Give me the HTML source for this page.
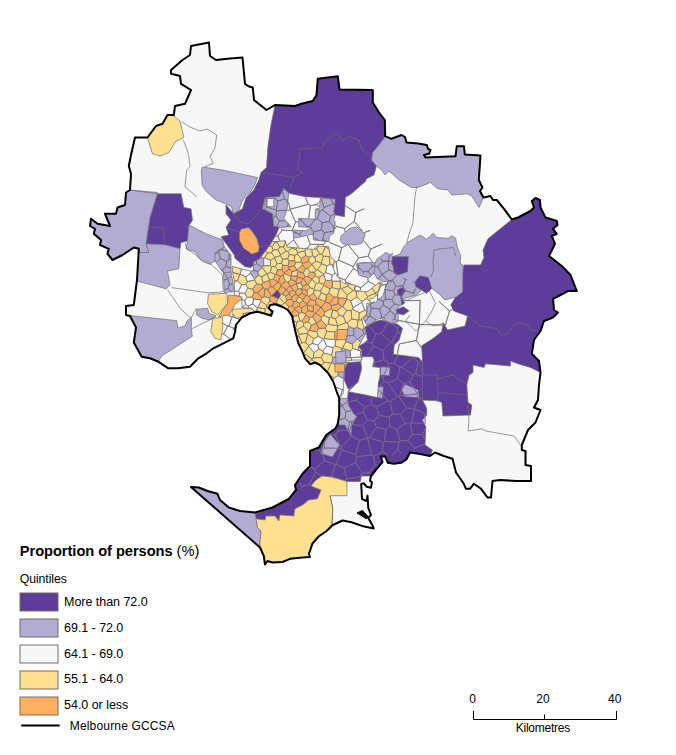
<!DOCTYPE html>
<html><head><meta charset="utf-8"><title>Proportion of persons</title>
<style>
html,body{margin:0;padding:0;background:#fff;}
body{width:676px;height:755px;overflow:hidden;position:relative;}
svg{position:absolute;left:0;top:0;}
svg text{font-family:"Liberation Sans",sans-serif;fill:#000;}
</style></head><body>
<svg width="676" height="755" viewBox="0 0 676 755">
<polygon points="191,46 209,42.5 210,56 216,60 230,58.5 242.5,57.5 245,84 249,86.5 252.8,87.5 254,100 266.5,110 275,105 295,106 301.5,103.8 312.8,101 316.5,95 317.8,78.8 337.8,76.2 339.5,89.5 372.8,90 372.8,102.5 379,112.5 384.8,120 385.2,136.2 391.5,138.8 401.5,135 405,137 406.5,142.5 418,143.5 426.8,145 428,148.8 430.5,150 429,153.8 424,155 425.5,157.5 455.5,156.2 456.8,146.2 464,146.2 464.8,154.5 480.5,155.5 478.8,180 482.5,187.5 480,191 483.5,197.5 490.5,196 493,200 496.8,200 504,208.8 511.8,219.5 518,217.5 530.5,211 534,207.5 531.8,201 535.5,198 540,200 540.5,207.5 545.5,217.5 556.8,221 557.5,225 553,228.8 556.8,233.8 551.8,236 555,243.8 549,256 561.8,266 570.5,275 576.8,291 568,291 560.5,295 553,298.8 554,310 558,312.5 553,317.5 544,321 540.5,331 534,340 531.8,353.8 539,361 540.5,372.5 539,385 538,400 534,407.5 540.5,410 535.5,422.5 528,430 521.8,445 521.8,450 525.5,451 525.5,465 531,466 531,481 516,481 500,480 492.5,481 491,497.5 487.5,497.5 481,488.8 473.8,483.8 470,488.8 466,488.8 463.8,483.8 456,472.5 452.5,458.8 443.8,456 435,452.5 430,456 418.8,453.8 410,452.5 406.5,459.3 401,462.8 394,463.7 387.9,462.8 385.2,456.6 380.8,456.6 382.5,462 378,467.3 371,476 370,480.6 371.9,482.4 371,487.7 366.6,486.8 363.9,483.3 361.2,484 362,499 366.6,501 367.5,495.7 368.3,508 371,515 368.3,517.9 372.8,525.9 373.7,528.5 362,525.9 351.5,522.3 342.6,520.5 332.8,525 326.6,531 318.6,536.5 312.4,543.6 308.9,554 310,557 302.5,557.5 290,558.8 282.5,562 272.5,562.5 267.5,561 265,564.5 263.8,556 260,547.5 191,487 198.8,487.5 207.5,491 217.5,493.8 220,500 228.8,507.5 240,511 255,512.5 272.5,507.5 288.8,498.8 296,490 295,485 302.5,473.8 310,466 310,451 318.8,447.5 326.2,435 335,428.8 337.5,425 339.2,415 339.2,398.3 336.7,391.7 333.3,381.7 328.3,373.3 320,365 315,362.5 310,364.2 305,358.3 301.7,350 298.3,343.3 295,330 292.5,318.3 292,315.8 287.8,310 282,306.7 275.2,304.2 270.2,305 268.6,308.3 272.7,311.7 271,315.8 266.9,314.2 257.7,311.7 250.2,313.3 241.8,317.5 236,325 235,332 233.3,338.3 223.3,343.3 213.3,348.3 206.7,353.3 198.3,358.3 190,366.7 178,368.3 168.3,368.3 158.3,361.7 150,358.3 141.7,356.7 133.8,342.5 136,327.5 130,316 126,315 126,306 133.8,305 137,280 138.8,248.8 133.8,247.5 122.5,255 112.5,260 107.5,253.8 108.8,248.8 100,245 101,240 93.8,233.8 95,228.8 90,226 91,218.8 97.5,223.8 110,226 105,213.8 116,213.8 117.5,207.5 125,205 126,192.5 130,190 131,173.8 128.8,166 131,155 135,137.5 147.5,137.5 156,126 162.5,123.8 167.5,115 173.8,115 175,106 185,103.8 191,90 181,83.8 180,76 171,73.8 171,70 182.5,60 190,55" fill="#f7f7f7" stroke="none"/>
<polygon points="275,105 295,106 301.5,103.8 312.8,101 316.5,95 317.8,78.8 337.8,76.2 339.5,89.5 372.8,90 372.8,102.5 379,112.5 384.8,120 385.2,137 372.8,152.5 371.5,160 376.5,166 374,175 366.5,178.8 365.3,181.7 360.3,185.8 352,193.3 345.3,197.5 344.5,216.7 335.3,215 333.7,211.7 335.3,199.2 320.3,197.5 305.3,196.7 288.7,193.3 283.7,188.3 279.5,196.7 265,197.5 262.5,208.8 272.5,213.8 273.8,226 280,227.5 278.6,228.3 276.9,233.3 270,245 260,258.3 251,267.5 245,266.7 235,258.3 234.3,255 221,236.7 228.8,235 226,227.5 231,220 226,213.8 226,205 233.8,213.8 242.5,208.8 246,197.5 253.8,190 258.8,180 261,172.5 266.5,167.5 267.8,147.5 271,125" fill="#5e3c99" stroke="#6e6e6e" stroke-width="0.7" stroke-linejoin="round"/>
<polygon points="157.5,193.8 181,193.8 183.8,207.5 191,208.8 192.5,220 188.8,226 187.5,241 181,242.5 180,248.8 166,245 146,243.8 150,217.5" fill="#5e3c99" stroke="#6e6e6e" stroke-width="0.7" stroke-linejoin="round"/>
<polygon points="511.8,219.5 518,217.5 530.5,211 534,207.5 531.8,201 535.5,198 540,200 540.5,207.5 545.5,217.5 556.8,221 557.5,225 553,228.8 556.8,233.8 551.8,236 555,243.8 549,256 561.8,266 570.5,275 576.8,291 568,291 560.5,295 553,298.8 554,310 558,312.5 553,317.5 544,321 540.5,331 534,340 531.8,353.8 539,361 540.5,372.5 530.5,367.5 518,363.8 510.5,361 510.5,366 485.5,363.8 484,367.5 473,365 473,372.5 469,375 466.8,385 468,402.5 471.8,405 470.5,415 443,416 441.8,402.5 437.5,400.8 421.7,400 422.5,361.7 421.7,345.8 433.3,338.3 441.7,331.7 443.3,322.5 447.5,330 465,326 467.5,316 453.8,311 450.8,305 456.7,295 462.7,291.7 461.8,275 464,265 480.5,265 484,257.5 483,250 488,238.8" fill="#5e3c99" stroke="#6e6e6e" stroke-width="0.7" stroke-linejoin="round"/>
<polygon points="365,326.7 375,321.7 380.8,320 397.5,324.2 402.5,328.3 399.2,340 394.2,345 393.3,354.2 418.3,357.5 422.5,361.7 422.5,400 426.7,408.3 426.7,415 422.5,420 425.8,426.7 425,445 432.5,450 430,456 418.8,453.8 410,452.5 406.5,459.3 401,462.8 394,463.7 387.9,462.8 385.2,456.6 380.8,456.6 382.5,462 378,467.3 371,476 361.2,476 360.4,481.5 347,481.5 332,477 322,476 316,480 311,486 321,490 317.5,498.8 308.8,500 302.5,505 295,508.8 293.8,516 280,515 278.8,521 275,516 266,516 265,520 256,518.8 255,513.8 272.5,507.5 288.8,498.8 296,490 295,485 302.5,473.8 310,466 310,451 318.8,447.5 326.2,435 335,428.8 337.5,422.5 345,425 351,436 351.7,425 356.7,416.7 353.3,413.3 348.3,405 347.5,398.3 348.3,390.8 358.3,380 361.7,366.7 360.8,361.7 362.5,356.7 358.3,351.7 356.7,347.5 365,342.5 367.5,340" fill="#5e3c99" stroke="#6e6e6e" stroke-width="0.7" stroke-linejoin="round"/>
<polygon points="347.5,362.5 360.8,361.7 361.7,368.3 358.3,381.7 348.3,389.2 344.2,380 345,368.3" fill="#5e3c99" stroke="#6e6e6e" stroke-width="0.7" stroke-linejoin="round"/>
<polygon points="130,190 157.5,192.5 150,217.5 146,243.8 148.8,252.5 138.8,252.5 138.8,248.8 133.8,247.5 122.5,255 112.5,260 107.5,253.8 108.8,248.8 100,245 101,240 93.8,233.8 95,228.8 90,226 91,218.8 97.5,223.8 110,226 105,213.8 116,213.8 117.5,207.5 125,205 126,192.5" fill="#b2abd2" stroke="#6e6e6e" stroke-width="0.7" stroke-linejoin="round"/>
<polygon points="138.8,252.5 148.8,252.5 146,243.8 166,245 180,248.8 178.8,268.8 167.5,271 170,285 166,288.8 137,281" fill="#b2abd2" stroke="#6e6e6e" stroke-width="0.7" stroke-linejoin="round"/>
<polygon points="191,226 206.7,234 222.6,240 224.3,246.7 216.7,252.5 215,261 210,264 200,259 195,251.7 186,248.8 187.5,241 188.8,226" fill="#b2abd2" stroke="#6e6e6e" stroke-width="0.7" stroke-linejoin="round"/>
<polygon points="215,252.5 224.3,246.7 231,255 231,273.3 223.4,273.3 215,261" fill="#b2abd2" stroke="#6e6e6e" stroke-width="0.7" stroke-linejoin="round"/>
<polygon points="223.4,273.3 231,271.7 234.3,291.7 224.3,292.5" fill="#b2abd2" stroke="#6e6e6e" stroke-width="0.7" stroke-linejoin="round"/>
<polygon points="130.2,315.6 176.8,320.7 177.8,328 185,326 187.1,320.7 191.3,317.6 191.3,329 192.3,336.3 161.7,356 158.3,361.7 150,358.3 141.7,356.7 133.8,342.5 136,327.5" fill="#b2abd2" stroke="#6e6e6e" stroke-width="0.7" stroke-linejoin="round"/>
<polygon points="196.7,309.2 207.5,308.3 209.2,313.3 215.9,315.8 210,320 201.7,318.3 196.7,315" fill="#b2abd2" stroke="#6e6e6e" stroke-width="0.7" stroke-linejoin="round"/>
<polygon points="202.5,167 222.5,170 257.5,177.5 254.6,185.5 250,192.6 245.7,195.3 242,201.5 238.6,210.4 233.3,213.5 231.5,206.8 224.4,203.3 215.5,199.7 206.6,191.7 202.2,185.5 201.3,171.3" fill="#b2abd2" stroke="#6e6e6e" stroke-width="0.7" stroke-linejoin="round"/>
<polygon points="385.2,137 391.5,138.8 401.5,135 405,137 406.5,142.5 418,143.5 426.8,145 428,148.8 430.5,150 429,153.8 424,155 425.5,157.5 455.5,156.2 456.8,146.2 464,146.2 464.8,154.5 480.5,155.5 478.8,180 482.5,187.5 480,191 483,198.8 479,207.5 471.8,196 466.8,193.8 451.8,195 448,190 438,188.8 430.5,182.5 418,187.5 411.5,187.5 399,180 389,171 385,175 381.5,170 376.5,166 371.5,160 372.8,152.5" fill="#b2abd2" stroke="#6e6e6e" stroke-width="0.7" stroke-linejoin="round"/>
<polygon points="356.7,264.2 363.3,262.5 375,263.3 376.7,259.2 385.8,252.5 391.7,255 392.5,256.7 400,254.2 403.3,247.5 407.5,242.5 420,235 426.7,239.2 433.3,233.3 436.7,237.5 448.3,238.3 451.7,235.8 455.8,238.3 456.7,245 460.8,256.7 460,263.3 463,265 462.7,291.7 456.7,296.7 445,300 438.3,293.3 431.7,288.3 426.7,293.3 421.7,290 416.7,295 405,298.3 404.2,303.3 401.7,305 398,307 398.3,321.7 391.7,323.3 380,318.3 366.7,325 363.3,319 366.7,312 368,305 376,302 383.3,295 385.8,285 391.7,281.7 383.3,281.7 376.7,278.3 375,274.2 365,273.3 362.5,276.7 358.3,273.3" fill="#b2abd2" stroke="#6e6e6e" stroke-width="0.7" stroke-linejoin="round"/>
<polygon points="341,236 350,228.3 356.7,226.7 365.3,234.2 362,243.3 354.5,245 343,244 340.3,240.8" fill="#b2abd2" stroke="#6e6e6e" stroke-width="0.7" stroke-linejoin="round"/>
<polygon points="279.5,196.7 283.7,188.3 288.7,193.3 287,210 283.7,218.3 291.2,226.7 280.3,227.5 273.8,226 273,214 263.7,208.5 265,197.5" fill="#b2abd2" stroke="#6e6e6e" stroke-width="0.7" stroke-linejoin="round"/>
<polygon points="266,198.5 273.7,198.5 273.7,206.7 266,206.7" fill="#f7f7f7" stroke="#6e6e6e" stroke-width="0.7" stroke-linejoin="round"/>
<polygon points="320.3,198.3 335.3,199.2 333.7,211.7 335.3,215 333.7,220 335.3,222 333.7,233.3 329.5,235.8 328.7,241.7 313.7,240 312.8,234.2 293.7,238.3 292.8,230 305.3,230.8 312,227.5 298.7,226.7 298.7,218.3 315.3,219.2 315.3,209.2 319.5,208.3" fill="#b2abd2" stroke="#6e6e6e" stroke-width="0.7" stroke-linejoin="round"/>
<polygon points="357,263.3 374.7,262.5 374.7,272 368.7,278.3 358.7,275" fill="#b2abd2" stroke="#6e6e6e" stroke-width="0.7" stroke-linejoin="round"/>
<polygon points="339.2,398.3 347.5,398.3 348.3,405 353.3,413.3 356.7,416.7 351.7,425 351,436 345,425 337.5,425 339.2,415" fill="#b2abd2" stroke="#6e6e6e" stroke-width="0.7" stroke-linejoin="round"/>
<polygon points="330,434 339.6,445 332.5,457 320.5,453.5 324,442.7" fill="#b2abd2" stroke="#6e6e6e" stroke-width="0.7" stroke-linejoin="round"/>
<polygon points="380.8,366.7 390,367.5 389.2,375.8 380,375" fill="#b2abd2" stroke="#6e6e6e" stroke-width="0.7" stroke-linejoin="round"/>
<polygon points="377.5,386.7 383.3,386.7 382.5,398.3 377.5,397.5" fill="#b2abd2" stroke="#6e6e6e" stroke-width="0.7" stroke-linejoin="round"/>
<polygon points="405,384.2 418.3,390 419.2,397.5 405,396.7 401.7,390" fill="#b2abd2" stroke="#6e6e6e" stroke-width="0.7" stroke-linejoin="round"/>
<polygon points="191,487 198.8,487.5 207.5,491 217.5,493.8 220,500 228.8,507.5 240,511 255,512.5 255,513.8 256,518.8 257.5,527.5 261,531 260,542.5 260,547.5" fill="#b2abd2" stroke="#6e6e6e" stroke-width="0.7" stroke-linejoin="round"/>
<polygon points="362.5,356.7 372.5,356.7 374.2,360 372.5,366.7 380,367.5 380,375.8 378.3,383.3 377.5,397.5 361.7,394.2 348.3,391.7 358.3,381.7 361.7,368.3 360.8,361.7" fill="#f7f7f7" stroke="#6e6e6e" stroke-width="0.7" stroke-linejoin="round"/>
<polygon points="392.5,256.7 408.3,256.7 407.5,271.7 398.3,275 394.2,273.3 393.3,266.7 391.7,263.3" fill="#5e3c99" stroke="#6e6e6e" stroke-width="0.7" stroke-linejoin="round"/>
<polygon points="415,281.7 420,275.8 428.3,277.5 431.7,288.3 426.7,293.3 421.7,290 415.8,286.7" fill="#5e3c99" stroke="#6e6e6e" stroke-width="0.7" stroke-linejoin="round"/>
<polygon points="397.5,290 401.7,287.5 405.8,290 401.7,296.7 404.2,303.3 401.7,305 400.8,296.7 397.5,293.3" fill="#5e3c99" stroke="#6e6e6e" stroke-width="0.7" stroke-linejoin="round"/>
<polygon points="395.8,310 403.3,306.7 409.2,310.8 403.3,315 397.5,313.3" fill="#5e3c99" stroke="#6e6e6e" stroke-width="0.7" stroke-linejoin="round"/>
<polygon points="147.5,137.5 156,126 162.5,123.8 167.5,115 173.8,116 180,121 183.8,137.5 176,141 168.8,152.5 160,156 152.5,153.8" fill="#fee090" stroke="#6e6e6e" stroke-width="0.7" stroke-linejoin="round"/>
<polygon points="208.4,294.2 226.8,293.3 227.6,303.3 217.6,315 211.7,311.7 207.5,303.3" fill="#fee090" stroke="#6e6e6e" stroke-width="0.7" stroke-linejoin="round"/>
<polygon points="212.6,318.3 222.6,317.5 222.6,327.5 220.9,340 215.1,338.3 210.9,331.7" fill="#fee090" stroke="#6e6e6e" stroke-width="0.7" stroke-linejoin="round"/>
<polygon points="232.6,309.2 251.8,308.3 254.3,311.7 245.2,315.8 236.8,318.3 232,314" fill="#fee090" stroke="#6e6e6e" stroke-width="0.7" stroke-linejoin="round"/>
<polygon points="322,476 332,477 347,481.5 347,495.7 330,495.7 332.8,508 332,524 326.6,531 318.6,536.5 312.4,543.6 308.9,554 310,557 302.5,557.5 290,558.8 282.5,562 272.5,562.5 267.5,561 265,564.5 263.8,556 260,547.5 260,542.5 261,531 257.5,527.5 256,518.8 265,520 266,516 275,516 278.8,521 280,515 293.8,516 295,508.8 302.5,505 308.8,500 317.5,498.8 321,490 311,486 316,480" fill="#fee090" stroke="#6e6e6e" stroke-width="0.7" stroke-linejoin="round"/>
<polygon points="241,229 248.5,227.5 252.5,231.7 256.8,238.3 259.3,246.7 258.5,251.7 251.8,254.2 248.5,251.7 243.5,248.3 239.3,240 239.3,233" fill="#fdae61" stroke="#6e6e6e" stroke-width="0.7" stroke-linejoin="round"/>
<polygon points="228.4,295 245.2,296.7 235.1,304.2 229.3,315 218.4,316.7 227.6,303.3" fill="#fdae61" stroke="#6e6e6e" stroke-width="0.7" stroke-linejoin="round"/>
<polygon points="274.8,257.3 274.5,258 277,263.8 281.6,263.4 282.8,259.2 280.2,255.6" fill="#fee090" stroke="#6e6e6e" stroke-width="0.8" stroke-linejoin="round"/>
<polygon points="329.2,249.9 328.7,246.7 325.9,246.5 325.8,246.6" fill="#fee090" stroke="#6e6e6e" stroke-width="0.8" stroke-linejoin="round"/>
<polygon points="310.3,299.7 315.4,300.7 317.1,298.6 313.7,292.9 308.9,296.4" fill="#fdae61" stroke="#6e6e6e" stroke-width="0.8" stroke-linejoin="round"/>
<polygon points="250.7,271.3 248.8,270.4 246,270 241.5,268.9 240,274.3 245.9,276.8 250.3,273.5" fill="#f7f7f7" stroke="#6e6e6e" stroke-width="0.8" stroke-linejoin="round"/>
<polygon points="315.4,300.7 316,304.3 320.8,307 321.1,307 325.7,302.2 325.5,301.7 318.2,298.2 317.1,298.6" fill="#fdae61" stroke="#6e6e6e" stroke-width="0.8" stroke-linejoin="round"/>
<polygon points="328.9,293 326.3,294.8 325.5,301.7 325.7,302.2 329.6,303.6 334.2,297.1" fill="#fdae61" stroke="#6e6e6e" stroke-width="0.8" stroke-linejoin="round"/>
<polygon points="316.6,249.1 319,246 317,245.8 313.9,249.2" fill="#fee090" stroke="#6e6e6e" stroke-width="0.8" stroke-linejoin="round"/>
<polygon points="239.7,274.5 240,274.3 241.5,268.9 238,268 232,266.5 232.8,272.4" fill="#fee090" stroke="#6e6e6e" stroke-width="0.8" stroke-linejoin="round"/>
<polygon points="341.7,306.7 338.3,303.6 331.2,305.7 331.4,308.7 332.6,310.2 337.2,311.2" fill="#fdae61" stroke="#6e6e6e" stroke-width="0.8" stroke-linejoin="round"/>
<polygon points="302.6,286.2 300.7,282.8 296.5,283.3 296.4,283.6 298,289 301.7,288.9" fill="#fee090" stroke="#6e6e6e" stroke-width="0.8" stroke-linejoin="round"/>
<polygon points="360.9,357.1 360.6,350.7 352.9,348.4 350.3,351 350.4,357.2 351,357.7" fill="#f7f7f7" stroke="#6e6e6e" stroke-width="0.8" stroke-linejoin="round"/>
<polygon points="340.3,280.5 340,281 340.4,288.6 341.3,288.8 347.7,286.2 348.1,284 343.7,283.3 341,280.3" fill="#fee090" stroke="#6e6e6e" stroke-width="0.8" stroke-linejoin="round"/>
<polygon points="348.9,326.2 345,335.1 345.3,335.9 353.8,335.5 354.1,328.6" fill="#b2abd2" stroke="#6e6e6e" stroke-width="0.8" stroke-linejoin="round"/>
<polygon points="345,335.1 337.4,329.3 334.6,332.1 334.7,339.6 335.2,340.3 344.7,337.8 345.3,335.9" fill="#fdae61" stroke="#6e6e6e" stroke-width="0.8" stroke-linejoin="round"/>
<polygon points="321.1,307 320.8,307 315.7,313.4 321.6,317.1 324.1,315.5 324.6,312.1" fill="#fdae61" stroke="#6e6e6e" stroke-width="0.8" stroke-linejoin="round"/>
<polygon points="303.6,353.1 308.8,346.4 308.8,345.5 305.5,342.6 302,342.6 299.4,344.8 299.3,345.3 301.7,350 302.9,353.1" fill="#fee090" stroke="#6e6e6e" stroke-width="0.8" stroke-linejoin="round"/>
<polygon points="266.8,305.2 266.8,307.1 268.7,308.1 270.2,305 274.9,304.2 275,303.7 270,300.9" fill="#fee090" stroke="#6e6e6e" stroke-width="0.8" stroke-linejoin="round"/>
<polygon points="250.7,271.3 250.3,273.5 254.7,279 258.4,275.5 258,271.5 253.5,270.1 253.5,271 251.4,270.7" fill="#b2abd2" stroke="#6e6e6e" stroke-width="0.8" stroke-linejoin="round"/>
<polygon points="325.7,280.5 323.8,274.6 318.9,277.5 319.1,282.7 323.4,284.4" fill="#fee090" stroke="#6e6e6e" stroke-width="0.8" stroke-linejoin="round"/>
<polygon points="312.5,343.4 313.7,338.6 307.7,334 305.5,342.6 308.8,345.5" fill="#fee090" stroke="#6e6e6e" stroke-width="0.8" stroke-linejoin="round"/>
<polygon points="286.7,300.1 285.1,302.7 288.9,306.6 292.5,306.1 293.7,302 291.4,299" fill="#fdae61" stroke="#6e6e6e" stroke-width="0.8" stroke-linejoin="round"/>
<polygon points="256.5,263.7 262.4,267.4 263.7,265.9 263.8,258.2 260.7,257.3 260,258.3 256.6,260.2" fill="#b2abd2" stroke="#6e6e6e" stroke-width="0.8" stroke-linejoin="round"/>
<polygon points="277.1,242.6 279.6,247.1 283.5,246.9 285.4,242.7 284.7,240.8 278.4,241.3" fill="#fee090" stroke="#6e6e6e" stroke-width="0.8" stroke-linejoin="round"/>
<polygon points="239.5,292.8 239,296.3 241.8,297 241.8,299.6 245,300.6 247.1,297.5 244.9,293.3" fill="#f7f7f7" stroke="#6e6e6e" stroke-width="0.8" stroke-linejoin="round"/>
<polygon points="321.6,263.8 326.8,266 330.2,264.5 329.2,256.6 323.1,256 321.3,263.2" fill="#fee090" stroke="#6e6e6e" stroke-width="0.8" stroke-linejoin="round"/>
<polygon points="269.6,298 271.4,295.9 267.7,289.1 264.9,289.1 263.9,296.8" fill="#fdae61" stroke="#6e6e6e" stroke-width="0.8" stroke-linejoin="round"/>
<polygon points="286.2,251 280.4,254.9 280.2,255.6 282.8,259.2 287.8,258.9 289.4,254.5 288,251.5" fill="#fee090" stroke="#6e6e6e" stroke-width="0.8" stroke-linejoin="round"/>
<polygon points="301.8,312.3 299.3,313.3 298.2,315.4 299.7,320.7 302,321.4 305.9,315.3 305.2,313.6" fill="#fee090" stroke="#6e6e6e" stroke-width="0.8" stroke-linejoin="round"/>
<polygon points="278.1,282.3 281.1,284.5 285.5,281.8 283.2,275.4 280.2,276.3" fill="#fdae61" stroke="#6e6e6e" stroke-width="0.8" stroke-linejoin="round"/>
<polygon points="315.8,261.3 314.9,257 312.6,255.8 308.8,257.3 308.6,261.5 311.8,264.3" fill="#fee090" stroke="#6e6e6e" stroke-width="0.8" stroke-linejoin="round"/>
<polygon points="360.6,350.7 360.9,357.1 361.7,358.1 361.7,350 361.4,349.7" fill="#f7f7f7" stroke="#6e6e6e" stroke-width="0.8" stroke-linejoin="round"/>
<polygon points="312.1,359.3 312,359.3 308.7,362.6 310,364.2 314.6,362.6" fill="#f7f7f7" stroke="#6e6e6e" stroke-width="0.8" stroke-linejoin="round"/>
<polygon points="277.4,269.8 275.8,274.1 280.2,276.3 283.2,275.4 284.3,273.8 284.3,272.9 281.7,269.6" fill="#fdae61" stroke="#6e6e6e" stroke-width="0.8" stroke-linejoin="round"/>
<polygon points="235.9,281.2 233.9,280.1 234.3,283 234.3,283.4" fill="#fee090" stroke="#6e6e6e" stroke-width="0.8" stroke-linejoin="round"/>
<polygon points="378.6,291.1 375.5,292.8 375.3,293.2 376.2,295.5 376.7,295 378.6,291.1" fill="#fee090" stroke="#6e6e6e" stroke-width="0.8" stroke-linejoin="round"/>
<polygon points="262.4,267.6 258,271.5 258.4,275.5 261.8,276.8 266.8,273.9" fill="#fee090" stroke="#6e6e6e" stroke-width="0.8" stroke-linejoin="round"/>
<polygon points="364.8,310.3 359.3,312.7 358.6,319.8 362.1,320.3 361.7,318.3 366.7,315 366.7,311.2" fill="#fee090" stroke="#6e6e6e" stroke-width="0.8" stroke-linejoin="round"/>
<polygon points="339.3,367.5 331.9,362.5 331,362.9 327.1,372.1 328.3,373.3 329,374.5 333.9,378 338,375.6" fill="#fee090" stroke="#6e6e6e" stroke-width="0.8" stroke-linejoin="round"/>
<polygon points="346.6,310.3 343.2,316.1 345.8,322.5 347.1,322.8 351.8,319 351.3,310.3" fill="#fee090" stroke="#6e6e6e" stroke-width="0.8" stroke-linejoin="round"/>
<polygon points="261.4,284.6 263,287.9 264.9,289.1 267.7,289.1 271.1,286.5 269.4,280.3 262.7,282.6" fill="#fdae61" stroke="#6e6e6e" stroke-width="0.8" stroke-linejoin="round"/>
<polygon points="303.5,323.2 303.5,326.1 308.4,331.1 309.2,330.6 311.5,325 308.5,321.9" fill="#fee090" stroke="#6e6e6e" stroke-width="0.8" stroke-linejoin="round"/>
<polygon points="294.2,265.9 297,270.1 297.3,270.2 302.4,265 302.2,263.4 301.2,262.1 295.6,262.3" fill="#fee090" stroke="#6e6e6e" stroke-width="0.8" stroke-linejoin="round"/>
<polygon points="337.7,325.9 337.7,325.9 337.4,329.3 345,335.1 348.9,326.2 347.1,322.8 345.8,322.5" fill="#fee090" stroke="#6e6e6e" stroke-width="0.8" stroke-linejoin="round"/>
<polygon points="329.4,317.9 324.1,315.5 321.6,317.1 320.9,319.8 326.3,325.7 328.3,324.2" fill="#fee090" stroke="#6e6e6e" stroke-width="0.8" stroke-linejoin="round"/>
<polygon points="313.3,358 314,352.5 308.8,346.4 303.6,353.1 312,359.3 312.1,359.3" fill="#fee090" stroke="#6e6e6e" stroke-width="0.8" stroke-linejoin="round"/>
<polygon points="303.5,323.2 302,321.4 299.7,320.7 296.9,322.2 295.4,328.4 297.3,329.6 303.5,326.1" fill="#fee090" stroke="#6e6e6e" stroke-width="0.8" stroke-linejoin="round"/>
<polygon points="338,375.6 333.9,378 332.9,381 333.3,381.7 335,386.8 342.2,389.8 343.3,389.1 343.3,380 343.5,378.5" fill="#f7f7f7" stroke="#6e6e6e" stroke-width="0.8" stroke-linejoin="round"/>
<polygon points="381.9,282.9 380,281.7 378.4,283 380.1,283.9" fill="#fee090" stroke="#6e6e6e" stroke-width="0.8" stroke-linejoin="round"/>
<polygon points="248.2,305.8 245.5,304.5 242,307 242,307.5 248.8,308.1" fill="#f7f7f7" stroke="#6e6e6e" stroke-width="0.8" stroke-linejoin="round"/>
<polygon points="332,264.9 333.9,264.2 334.5,260 330.3,256.7 330.1,255.6 329.2,256.6 330.2,264.5" fill="#fee090" stroke="#6e6e6e" stroke-width="0.8" stroke-linejoin="round"/>
<polygon points="293.7,316.1 291.5,313.9 290.6,313.9 292,315.8 292.5,318.3 292.9,320" fill="#fee090" stroke="#6e6e6e" stroke-width="0.8" stroke-linejoin="round"/>
<polygon points="256.7,310.3 257.5,307.8 257.5,307.7 252.9,304 248.2,305.8 248.8,308.1 251.8,308.3 254.3,311.7 254.4,311.7" fill="#f7f7f7" stroke="#6e6e6e" stroke-width="0.8" stroke-linejoin="round"/>
<polygon points="308.9,296.4 313.7,292.9 314.4,289.9 313.7,288.7 309.9,287.7 307.2,290.2 307,295.4" fill="#fee090" stroke="#6e6e6e" stroke-width="0.8" stroke-linejoin="round"/>
<polygon points="256.6,283.7 252.5,289.2 254.1,292.5 257.8,292.7 263,287.9 261.4,284.6" fill="#fdae61" stroke="#6e6e6e" stroke-width="0.8" stroke-linejoin="round"/>
<polygon points="245.9,276.8 240,274.3 239.7,274.5 237.3,280.9 241.5,284.8 245.8,284.7 247.3,281.7" fill="#fee090" stroke="#6e6e6e" stroke-width="0.8" stroke-linejoin="round"/>
<polygon points="274.5,258 274.8,257.3 271.7,252.7 267.2,253.2 264.5,257.8 270.5,260.4" fill="#fee090" stroke="#6e6e6e" stroke-width="0.8" stroke-linejoin="round"/>
<polygon points="323.7,353 322.9,350.9 318.8,349 314,352.5 313.3,358 321.1,357.5" fill="#fee090" stroke="#6e6e6e" stroke-width="0.8" stroke-linejoin="round"/>
<polygon points="302.2,293.4 301.9,289.2 301.7,288.9 298,289 295.5,291.4 296,294.2 298.1,295.9" fill="#fdae61" stroke="#6e6e6e" stroke-width="0.8" stroke-linejoin="round"/>
<polygon points="312,279.4 315.4,275.9 314.7,272.1 310.2,272 307.4,276.5 311.9,279.4" fill="#fdae61" stroke="#6e6e6e" stroke-width="0.8" stroke-linejoin="round"/>
<polygon points="272.4,286.7 276.3,290.9 278.1,290.9 281.2,285.9 281.1,284.5 278.1,282.3 278,282.3" fill="#fdae61" stroke="#6e6e6e" stroke-width="0.8" stroke-linejoin="round"/>
<polygon points="308.6,261.5 302.2,263.4 302.4,265 305.3,268.4 308,268.6 311.8,264.4 311.8,264.3" fill="#fdae61" stroke="#6e6e6e" stroke-width="0.8" stroke-linejoin="round"/>
<polygon points="256.7,310.3 254.4,311.7 257.7,311.7 258,311.8" fill="#fee090" stroke="#6e6e6e" stroke-width="0.8" stroke-linejoin="round"/>
<polygon points="359.3,312.7 364.8,310.3 361.9,302.2 353.1,307.6 352.6,309.3" fill="#f7f7f7" stroke="#6e6e6e" stroke-width="0.8" stroke-linejoin="round"/>
<polygon points="340.8,396 338.5,396.5 339.2,398.3 340.9,396.2" fill="#f7f7f7" stroke="#6e6e6e" stroke-width="0.8" stroke-linejoin="round"/>
<polygon points="335.2,340.3 335.2,346 341.8,348.6 342.4,348.4 345.9,341.5 344.7,337.8" fill="#fee090" stroke="#6e6e6e" stroke-width="0.8" stroke-linejoin="round"/>
<polygon points="293,290.2 289.1,292.8 289,294 291.8,297.1 296,294.2 295.5,291.4" fill="#fdae61" stroke="#6e6e6e" stroke-width="0.8" stroke-linejoin="round"/>
<polygon points="270.4,265.6 270.5,260.4 264.5,257.8 263.8,258.2 263.7,265.9" fill="#f7f7f7" stroke="#6e6e6e" stroke-width="0.8" stroke-linejoin="round"/>
<polygon points="269.5,280.1 273.4,279.1 275.5,274.3 270.3,272.2 267.1,274" fill="#fee090" stroke="#6e6e6e" stroke-width="0.8" stroke-linejoin="round"/>
<polygon points="270.3,315.3 271.1,315.7 272.7,311.7 271.1,310.3" fill="#fee090" stroke="#6e6e6e" stroke-width="0.8" stroke-linejoin="round"/>
<polygon points="278,298.6 279.4,297.8 280.8,294.4 278.1,290.9 276.3,290.9 271.5,295.8" fill="#5e3c99" stroke="#6e6e6e" stroke-width="0.8" stroke-linejoin="round"/>
<polygon points="245.5,304.5 245,300.6 241.8,299.6 242,307" fill="#f7f7f7" stroke="#6e6e6e" stroke-width="0.8" stroke-linejoin="round"/>
<polygon points="320.9,319.8 316.3,323.1 318.9,328.4 325.4,328.3 326.3,325.7" fill="#fdae61" stroke="#6e6e6e" stroke-width="0.8" stroke-linejoin="round"/>
<polygon points="345.9,341.5 342.4,348.4 350.3,351 352.9,348.4 352.5,344.1" fill="#fee090" stroke="#6e6e6e" stroke-width="0.8" stroke-linejoin="round"/>
<polygon points="286,289.6 289.1,292.8 293,290.2 290.9,286.4 289.9,286 286,289.5" fill="#fdae61" stroke="#6e6e6e" stroke-width="0.8" stroke-linejoin="round"/>
<polygon points="343.5,378.5 344.2,371.7 345.1,367.2 341.4,366.5 339.3,367.5 338,375.6" fill="#b2abd2" stroke="#6e6e6e" stroke-width="0.8" stroke-linejoin="round"/>
<polygon points="331.5,355.1 332.7,357.7 341,355.1 341.8,348.6 335.2,346 333.2,347.5" fill="#fee090" stroke="#6e6e6e" stroke-width="0.8" stroke-linejoin="round"/>
<polygon points="323.5,338.9 318.3,336.4 313.7,338.6 312.5,343.4 317.9,345.3 323.4,339.2" fill="#f7f7f7" stroke="#6e6e6e" stroke-width="0.8" stroke-linejoin="round"/>
<polygon points="326.5,345.9 322.9,350.9 323.7,353 331.5,355.1 333.2,347.5" fill="#f7f7f7" stroke="#6e6e6e" stroke-width="0.8" stroke-linejoin="round"/>
<polygon points="360.9,357.1 351,357.7 351.3,360.3 353.3,360 361.7,360 361.7,358.1" fill="#f7f7f7" stroke="#6e6e6e" stroke-width="0.8" stroke-linejoin="round"/>
<polygon points="302.7,299.7 302.8,300.8 306.9,304.4 310.3,299.7 308.9,296.4 307,295.4 306,295.7" fill="#fdae61" stroke="#6e6e6e" stroke-width="0.8" stroke-linejoin="round"/>
<polygon points="345.3,335.9 344.7,337.8 345.9,341.5 352.5,344.1 357.2,338.9 353.8,335.5" fill="#b2abd2" stroke="#6e6e6e" stroke-width="0.8" stroke-linejoin="round"/>
<polygon points="254.7,279 250.3,273.5 245.9,276.8 247.3,281.7 254.5,280" fill="#f7f7f7" stroke="#6e6e6e" stroke-width="0.8" stroke-linejoin="round"/>
<polygon points="340,281 332.4,281.1 331.9,287.7 339.2,289.3 340.4,288.6" fill="#fee090" stroke="#6e6e6e" stroke-width="0.8" stroke-linejoin="round"/>
<polygon points="314.8,313.5 313.1,311.3 307.8,310.7 305.2,313.6 305.9,315.3 309.6,317.5 312.5,316.9" fill="#fdae61" stroke="#6e6e6e" stroke-width="0.8" stroke-linejoin="round"/>
<polygon points="297.2,254 301.5,259 305.7,255.3 304.9,250.8 297.7,252.4" fill="#fee090" stroke="#6e6e6e" stroke-width="0.8" stroke-linejoin="round"/>
<polygon points="295.8,281.5 296.5,283.3 300.7,282.8 303.4,278.6 297.6,277.1" fill="#fdae61" stroke="#6e6e6e" stroke-width="0.8" stroke-linejoin="round"/>
<polygon points="254.1,292.5 252.5,289.2 248,287.9 244.9,293.3 247.1,297.5 252.2,297" fill="#fee090" stroke="#6e6e6e" stroke-width="0.8" stroke-linejoin="round"/>
<polygon points="288.9,306.6 285.1,302.7 284.5,302.8 281.4,305.3 281.3,306.4 282,306.7 287.4,309.8" fill="#fee090" stroke="#6e6e6e" stroke-width="0.8" stroke-linejoin="round"/>
<polygon points="274,241.6 272,241.7 270,245 269.3,245.9 272,246.6 274.9,242.6" fill="#fee090" stroke="#6e6e6e" stroke-width="0.8" stroke-linejoin="round"/>
<polygon points="256.5,263.7 256.6,260.2 253.5,262 253.5,265.8" fill="#b2abd2" stroke="#6e6e6e" stroke-width="0.8" stroke-linejoin="round"/>
<polygon points="307.4,276.5 310.2,272 308,268.6 305.3,268.4 303.3,272.9 305,276.8" fill="#fee090" stroke="#6e6e6e" stroke-width="0.8" stroke-linejoin="round"/>
<polygon points="279.6,247.1 278,249.6 280.4,254.9 286.2,251 283.5,246.9" fill="#fee090" stroke="#6e6e6e" stroke-width="0.8" stroke-linejoin="round"/>
<polygon points="266.8,273.9 261.8,276.8 262.7,282.6 269.4,280.3 269.5,280.1 267.1,274" fill="#fee090" stroke="#6e6e6e" stroke-width="0.8" stroke-linejoin="round"/>
<polygon points="353.1,307.6 350.7,300.9 346.9,299.1 342.8,306.8 346.6,310.3 351.3,310.3 352.6,309.3" fill="#fee090" stroke="#6e6e6e" stroke-width="0.8" stroke-linejoin="round"/>
<polygon points="295.4,328.4 296.9,322.2 292.9,320.2 294.7,328.5" fill="#fee090" stroke="#6e6e6e" stroke-width="0.8" stroke-linejoin="round"/>
<polygon points="294.7,309.3 294.5,308.1 292.5,306.1 288.9,306.6 287.4,309.8 287.8,310 290.6,313.9 291.5,313.9" fill="#fdae61" stroke="#6e6e6e" stroke-width="0.8" stroke-linejoin="round"/>
<polygon points="284.3,272.9 284.3,273.8 290.8,276.3 291.3,275.9 292,271.8 289,268.8" fill="#fdae61" stroke="#6e6e6e" stroke-width="0.8" stroke-linejoin="round"/>
<polygon points="274.9,242.6 277.1,242.6 278.4,241.3 274,241.6" fill="#fee090" stroke="#6e6e6e" stroke-width="0.8" stroke-linejoin="round"/>
<polygon points="290.8,276.3 290.6,279.5 295.8,281.5 297.6,277.1 297,276.1 291.3,275.9" fill="#fdae61" stroke="#6e6e6e" stroke-width="0.8" stroke-linejoin="round"/>
<polygon points="332,264.9 333.3,268.2 333.9,264.2" fill="#fee090" stroke="#6e6e6e" stroke-width="0.8" stroke-linejoin="round"/>
<polygon points="380.1,283.9 378.6,291.1 378.6,291.1 382.5,283.3 381.9,282.9" fill="#fee090" stroke="#6e6e6e" stroke-width="0.8" stroke-linejoin="round"/>
<polygon points="265.1,308.7 266.8,307.1 266.8,305.2 261,301.2 257.5,307.7 257.5,307.8" fill="#fee090" stroke="#6e6e6e" stroke-width="0.8" stroke-linejoin="round"/>
<polygon points="247.1,297.5 245,300.6 245.5,304.5 248.2,305.8 252.9,304 253.6,299.1 252.2,297" fill="#f7f7f7" stroke="#6e6e6e" stroke-width="0.8" stroke-linejoin="round"/>
<polygon points="257.8,292.7 254.1,292.5 252.2,297 253.6,299.1 260.8,299.9 261.9,297.7" fill="#fdae61" stroke="#6e6e6e" stroke-width="0.8" stroke-linejoin="round"/>
<polygon points="296.9,322.2 299.7,320.7 298.2,315.4 293.7,316.1 292.9,320 292.9,320.2" fill="#fee090" stroke="#6e6e6e" stroke-width="0.8" stroke-linejoin="round"/>
<polygon points="326.3,294.8 328.9,293 330,288.8 323.6,285.2 320.4,291 321.4,292.9" fill="#fee090" stroke="#6e6e6e" stroke-width="0.8" stroke-linejoin="round"/>
<polygon points="269.3,245.9 265.8,250.6 267.2,253.2 271.7,252.7 273.1,249.8 272,246.6" fill="#fee090" stroke="#6e6e6e" stroke-width="0.8" stroke-linejoin="round"/>
<polygon points="352.5,344.1 352.9,348.4 360.6,350.7 361.4,349.7 358.3,346.7 360.7,342.4 357.8,338.9 357.2,338.9" fill="#fee090" stroke="#6e6e6e" stroke-width="0.8" stroke-linejoin="round"/>
<polygon points="296.4,283.6 296.5,283.3 295.8,281.5 290.6,279.5 288.1,282.2 289.9,286 290.9,286.4" fill="#fdae61" stroke="#6e6e6e" stroke-width="0.8" stroke-linejoin="round"/>
<polygon points="288.3,265.6 282.8,265.1 281.7,269.6 284.3,272.9 289,268.8 289.2,266.9" fill="#fdae61" stroke="#6e6e6e" stroke-width="0.8" stroke-linejoin="round"/>
<polygon points="298.7,335.8 299.4,334.4 297.3,329.6 295.4,328.4 294.7,328.5 295,330 296.7,336.8" fill="#fee090" stroke="#6e6e6e" stroke-width="0.8" stroke-linejoin="round"/>
<polygon points="294.5,308.1 294.7,309.3 299.3,313.3 301.8,312.3 301.6,307.8 299.5,306.1" fill="#fdae61" stroke="#6e6e6e" stroke-width="0.8" stroke-linejoin="round"/>
<polygon points="362.5,329.8 363.7,333.5 365.4,334 366,333 364,327.6" fill="#b2abd2" stroke="#6e6e6e" stroke-width="0.8" stroke-linejoin="round"/>
<polygon points="329.6,303.6 325.7,302.2 321.1,307 324.6,312.1 331.4,308.7 331.2,305.7" fill="#fdae61" stroke="#6e6e6e" stroke-width="0.8" stroke-linejoin="round"/>
<polygon points="323.9,274.2 325.8,272.6 326.8,266 321.6,263.8 317.4,269.9" fill="#fee090" stroke="#6e6e6e" stroke-width="0.8" stroke-linejoin="round"/>
<polygon points="318.2,298.2 321.4,292.9 320.4,291 314.4,289.9 313.7,292.9 317.1,298.6" fill="#fee090" stroke="#6e6e6e" stroke-width="0.8" stroke-linejoin="round"/>
<polygon points="263.8,258.2 264.5,257.8 267.2,253.2 265.8,250.6 260.7,257.3" fill="#fee090" stroke="#6e6e6e" stroke-width="0.8" stroke-linejoin="round"/>
<polygon points="320.8,307 316,304.3 313.4,306.4 313.1,311.3 314.8,313.5 315.7,313.4" fill="#fdae61" stroke="#6e6e6e" stroke-width="0.8" stroke-linejoin="round"/>
<polygon points="351.8,319 347.1,322.8 348.9,326.2 354.1,328.6 357.3,327.4 358.3,320" fill="#fee090" stroke="#6e6e6e" stroke-width="0.8" stroke-linejoin="round"/>
<polygon points="342.2,389.8 340.8,396 340.9,396.2 343.3,393.3 343.3,389.1" fill="#f7f7f7" stroke="#6e6e6e" stroke-width="0.8" stroke-linejoin="round"/>
<polygon points="347.1,295.1 353.1,290.5 347.7,286.2 341.3,288.8" fill="#fee090" stroke="#6e6e6e" stroke-width="0.8" stroke-linejoin="round"/>
<polygon points="372.1,288.1 370.8,289.2 367.5,291.7 364.5,291.5 367.6,296.7 375.3,293.2 375.5,292.8" fill="#fee090" stroke="#6e6e6e" stroke-width="0.8" stroke-linejoin="round"/>
<polygon points="323.6,285.2 323.4,284.4 319.1,282.7 316.1,283.7 313.7,288.7 314.4,289.9 320.4,291" fill="#fee090" stroke="#6e6e6e" stroke-width="0.8" stroke-linejoin="round"/>
<polygon points="339.3,367.5 341.4,366.5 344.2,358.4 341,355.1 332.7,357.7 331.9,362.5" fill="#b2abd2" stroke="#6e6e6e" stroke-width="0.8" stroke-linejoin="round"/>
<polygon points="323.6,285.2 330,288.8 331.9,287.7 332.4,281.1 331.7,280.2 325.7,280.5 323.4,284.4" fill="#fdae61" stroke="#6e6e6e" stroke-width="0.8" stroke-linejoin="round"/>
<polygon points="274.9,304.2 275.2,304.2 281.3,306.4 281.4,305.3 276.3,303.1 275,303.7" fill="#fee090" stroke="#6e6e6e" stroke-width="0.8" stroke-linejoin="round"/>
<polygon points="363.7,333.5 357.8,338.9 360.7,342.4 365.4,334" fill="#b2abd2" stroke="#6e6e6e" stroke-width="0.8" stroke-linejoin="round"/>
<polygon points="335.4,318.8 337.7,325.9 345.8,322.5 343.2,316.1 339,315.3" fill="#fee090" stroke="#6e6e6e" stroke-width="0.8" stroke-linejoin="round"/>
<polygon points="258.4,275.5 254.7,279 254.5,280 256.6,283.7 261.4,284.6 262.7,282.6 261.8,276.8" fill="#fee090" stroke="#6e6e6e" stroke-width="0.8" stroke-linejoin="round"/>
<polygon points="281.2,285.9 278.1,290.9 280.8,294.4 282.5,294.3 286,289.6 286,289.5" fill="#fdae61" stroke="#6e6e6e" stroke-width="0.8" stroke-linejoin="round"/>
<polygon points="282.8,265.1 281.6,263.4 277,263.8 275.1,266.5 277.4,269.8 281.7,269.6" fill="#fee090" stroke="#6e6e6e" stroke-width="0.8" stroke-linejoin="round"/>
<polygon points="285.4,242.7 285.9,242.8 285.3,240.8 284.7,240.8" fill="#fee090" stroke="#6e6e6e" stroke-width="0.8" stroke-linejoin="round"/>
<polygon points="331.4,308.7 324.6,312.1 324.1,315.5 329.4,317.9 331.3,317.2 332.6,310.2" fill="#fee090" stroke="#6e6e6e" stroke-width="0.8" stroke-linejoin="round"/>
<polygon points="321.1,357.5 313.3,358 312.1,359.3 314.6,362.6 315,362.5 320,365 320.8,365.8 324.2,362.3" fill="#fee090" stroke="#6e6e6e" stroke-width="0.8" stroke-linejoin="round"/>
<polygon points="292,271.8 291.3,275.9 297,276.1 298,271.7 297.3,270.2 297,270.1" fill="#fee090" stroke="#6e6e6e" stroke-width="0.8" stroke-linejoin="round"/>
<polygon points="323.9,274.2 323.8,274.6 325.7,280.5 331.7,280.2 332.3,275 325.8,272.6" fill="#f7f7f7" stroke="#6e6e6e" stroke-width="0.8" stroke-linejoin="round"/>
<polygon points="340.8,396 342.2,389.8 335,386.8 336.7,391.7 338.5,396.5" fill="#f7f7f7" stroke="#6e6e6e" stroke-width="0.8" stroke-linejoin="round"/>
<polygon points="297.3,329.6 299.4,334.4 307.5,333.3 308.4,331.1 303.5,326.1" fill="#fee090" stroke="#6e6e6e" stroke-width="0.8" stroke-linejoin="round"/>
<polygon points="366.9,298.5 367.6,296.7 364.5,291.5 358.7,291.1 356.1,291.9 356.9,297.2 362,301.6" fill="#fee090" stroke="#6e6e6e" stroke-width="0.8" stroke-linejoin="round"/>
<polygon points="284.3,273.8 283.2,275.4 285.5,281.8 288.1,282.2 290.6,279.5 290.8,276.3" fill="#fee090" stroke="#6e6e6e" stroke-width="0.8" stroke-linejoin="round"/>
<polygon points="331,362.9 324.2,362.3 320.8,365.8 327.1,372.1" fill="#fee090" stroke="#6e6e6e" stroke-width="0.8" stroke-linejoin="round"/>
<polygon points="319.1,282.7 318.9,277.5 315.4,275.9 312,279.4 316.1,283.7" fill="#fee090" stroke="#6e6e6e" stroke-width="0.8" stroke-linejoin="round"/>
<polygon points="324.1,338.5 323.5,338.9 323.4,339.2 326.5,345.9 333.2,347.5 335.2,346 335.2,340.3 334.7,339.6" fill="#f7f7f7" stroke="#6e6e6e" stroke-width="0.8" stroke-linejoin="round"/>
<polygon points="311.9,279.4 307.4,276.5 305,276.8 303.6,278.5 307,284.3 308.2,284.8" fill="#fdae61" stroke="#6e6e6e" stroke-width="0.8" stroke-linejoin="round"/>
<polygon points="353.8,335.5 357.2,338.9 357.8,338.9 363.7,333.5 362.5,329.8 357.3,327.4 354.1,328.6" fill="#b2abd2" stroke="#6e6e6e" stroke-width="0.8" stroke-linejoin="round"/>
<polygon points="289.4,254.5 294.9,255.5 297.2,254 297.7,252.4 296.2,249.4 291.4,248.1 288,251.5" fill="#fee090" stroke="#6e6e6e" stroke-width="0.8" stroke-linejoin="round"/>
<polygon points="332.3,275 335.2,273 333.4,268.6 333.3,268.3 333.3,268.2 332,264.9 330.2,264.5 326.8,266 325.8,272.6" fill="#f7f7f7" stroke="#6e6e6e" stroke-width="0.8" stroke-linejoin="round"/>
<polygon points="298,271.7 303.3,272.9 305.3,268.4 302.4,265 297.3,270.2" fill="#fdae61" stroke="#6e6e6e" stroke-width="0.8" stroke-linejoin="round"/>
<polygon points="258,271.5 262.4,267.6 262.4,267.4 256.5,263.7 253.5,265.8 253.5,270.1" fill="#b2abd2" stroke="#6e6e6e" stroke-width="0.8" stroke-linejoin="round"/>
<polygon points="337.3,296.8 334.2,297.1 329.6,303.6 331.2,305.7 338.3,303.6 338.3,297.8" fill="#fdae61" stroke="#6e6e6e" stroke-width="0.8" stroke-linejoin="round"/>
<polygon points="239.5,292.8 244.9,293.3 248,287.9 245.8,284.7 241.5,284.8 238.4,291.3" fill="#f7f7f7" stroke="#6e6e6e" stroke-width="0.8" stroke-linejoin="round"/>
<polygon points="303.4,278.6 300.7,282.8 302.6,286.2 307,284.3 303.6,278.5" fill="#fdae61" stroke="#6e6e6e" stroke-width="0.8" stroke-linejoin="round"/>
<polygon points="270.3,272.2 271.7,266.7 270.4,265.6 263.7,265.9 262.4,267.4 262.4,267.6 266.8,273.9 267.1,274" fill="#fee090" stroke="#6e6e6e" stroke-width="0.8" stroke-linejoin="round"/>
<polygon points="321.3,263.2 323.1,256 322,254.4 319.5,253.9 314.9,257 315.8,261.3" fill="#fee090" stroke="#6e6e6e" stroke-width="0.8" stroke-linejoin="round"/>
<polygon points="289.1,260.7 287.8,258.9 282.8,259.2 281.6,263.4 282.8,265.1 288.3,265.6" fill="#fee090" stroke="#6e6e6e" stroke-width="0.8" stroke-linejoin="round"/>
<polygon points="305.9,315.3 302,321.4 303.5,323.2 308.5,321.9 309.6,317.5" fill="#fdae61" stroke="#6e6e6e" stroke-width="0.8" stroke-linejoin="round"/>
<polygon points="294.3,260.9 294.9,255.5 289.4,254.5 287.8,258.9 289.1,260.7" fill="#fee090" stroke="#6e6e6e" stroke-width="0.8" stroke-linejoin="round"/>
<polygon points="313.1,311.3 313.4,306.4 307.3,305 307.8,310.7" fill="#fdae61" stroke="#6e6e6e" stroke-width="0.8" stroke-linejoin="round"/>
<polygon points="316.2,323.1 316.3,323.1 320.9,319.8 321.6,317.1 315.7,313.4 314.8,313.5 312.5,316.9" fill="#fdae61" stroke="#6e6e6e" stroke-width="0.8" stroke-linejoin="round"/>
<polygon points="333.9,378 329,374.5 332.9,381" fill="#f7f7f7" stroke="#6e6e6e" stroke-width="0.8" stroke-linejoin="round"/>
<polygon points="316.6,249.1 319.5,253.9 322,254.4 325.7,246.7 323,246.3 319,246" fill="#fee090" stroke="#6e6e6e" stroke-width="0.8" stroke-linejoin="round"/>
<polygon points="299.4,344.8 302,342.6 298.7,335.8 296.7,336.8 298.3,343.3 299,344.6" fill="#fee090" stroke="#6e6e6e" stroke-width="0.8" stroke-linejoin="round"/>
<polygon points="305.8,249.2 304.9,250.8 305.7,255.3 308.8,257.3 312.6,255.8 311.9,249.3 306.6,248.8" fill="#fee090" stroke="#6e6e6e" stroke-width="0.8" stroke-linejoin="round"/>
<polygon points="247.3,281.7 245.8,284.7 248,287.9 252.5,289.2 256.6,283.7 254.5,280" fill="#fee090" stroke="#6e6e6e" stroke-width="0.8" stroke-linejoin="round"/>
<polygon points="347.1,295.1 341.3,288.8 340.4,288.6 339.2,289.3 337.3,296.8 338.3,297.8 346.6,298.5" fill="#fee090" stroke="#6e6e6e" stroke-width="0.8" stroke-linejoin="round"/>
<polygon points="298.3,296.5 296.1,301.4 299.4,303.2 302.8,300.8 302.7,299.7" fill="#fee090" stroke="#6e6e6e" stroke-width="0.8" stroke-linejoin="round"/>
<polygon points="354.1,290.5 356.1,291.9 358.7,291.1 355,290.8 355,286" fill="#fee090" stroke="#6e6e6e" stroke-width="0.8" stroke-linejoin="round"/>
<polygon points="260.8,299.9 261,301.2 266.8,305.2 270,300.9 269.6,298 263.9,296.8 261.9,297.7" fill="#fee090" stroke="#6e6e6e" stroke-width="0.8" stroke-linejoin="round"/>
<polygon points="331.9,287.7 330,288.8 328.9,293 334.2,297.1 337.3,296.8 339.2,289.3" fill="#fee090" stroke="#6e6e6e" stroke-width="0.8" stroke-linejoin="round"/>
<polygon points="239.7,274.5 232.8,272.4 233.9,280.1 235.9,281.2 237.3,280.9" fill="#fee090" stroke="#6e6e6e" stroke-width="0.8" stroke-linejoin="round"/>
<polygon points="239.5,292.8 238.4,291.3 234.3,290.8 234.3,295 239,296.3" fill="#f7f7f7" stroke="#6e6e6e" stroke-width="0.8" stroke-linejoin="round"/>
<polygon points="289,268.8 292,271.8 297,270.1 294.2,265.9 289.2,266.9" fill="#fdae61" stroke="#6e6e6e" stroke-width="0.8" stroke-linejoin="round"/>
<polygon points="340,281 340.3,280.5 340,279.3 337,276 335.6,273.1 335.2,273 332.3,275 331.7,280.2 332.4,281.1" fill="#f7f7f7" stroke="#6e6e6e" stroke-width="0.8" stroke-linejoin="round"/>
<polygon points="331.9,362.5 332.7,357.7 331.5,355.1 323.7,353 321.1,357.5 324.2,362.3 331,362.9" fill="#fee090" stroke="#6e6e6e" stroke-width="0.8" stroke-linejoin="round"/>
<polygon points="308.4,331.1 307.5,333.3 307.7,334 313.7,338.6 318.3,336.4 316.8,331.6 309.2,330.6" fill="#fee090" stroke="#6e6e6e" stroke-width="0.8" stroke-linejoin="round"/>
<polygon points="350.7,300.9 356.9,297.2 356.1,291.9 354.1,290.5 353.1,290.5 347.1,295.1 346.6,298.5 346.9,299.1" fill="#fee090" stroke="#6e6e6e" stroke-width="0.8" stroke-linejoin="round"/>
<polygon points="311.8,264.4 316.2,270.2 317.4,269.9 321.6,263.8 321.3,263.2 315.8,261.3 311.8,264.3" fill="#fee090" stroke="#6e6e6e" stroke-width="0.8" stroke-linejoin="round"/>
<polygon points="271.4,295.9 271.5,295.8 276.3,290.9 272.4,286.7 271.1,286.5 267.7,289.1" fill="#fdae61" stroke="#6e6e6e" stroke-width="0.8" stroke-linejoin="round"/>
<polygon points="311.5,325 309.2,330.6 316.8,331.6 318.9,328.4 316.3,323.1 316.2,323.1" fill="#fdae61" stroke="#6e6e6e" stroke-width="0.8" stroke-linejoin="round"/>
<polygon points="337.7,325.9 328.3,324.2 326.3,325.7 325.4,328.3 326.7,331.4 334.6,332.1 337.4,329.3" fill="#fee090" stroke="#6e6e6e" stroke-width="0.8" stroke-linejoin="round"/>
<polygon points="346.6,298.5 338.3,297.8 338.3,303.6 341.7,306.7 342.8,306.8 346.9,299.1" fill="#fdae61" stroke="#6e6e6e" stroke-width="0.8" stroke-linejoin="round"/>
<polygon points="273.4,279.1 278,282.3 278.1,282.3 280.2,276.3 275.8,274.1 275.5,274.3" fill="#fdae61" stroke="#6e6e6e" stroke-width="0.8" stroke-linejoin="round"/>
<polygon points="275.5,274.3 275.8,274.1 277.4,269.8 275.1,266.5 271.7,266.7 270.3,272.2" fill="#fee090" stroke="#6e6e6e" stroke-width="0.8" stroke-linejoin="round"/>
<polygon points="285.4,296 282.5,294.3 280.8,294.4 279.4,297.8 284.5,302.8 285.1,302.7 286.7,300.1" fill="#fee090" stroke="#6e6e6e" stroke-width="0.8" stroke-linejoin="round"/>
<polygon points="305,276.8 303.3,272.9 298,271.7 297,276.1 297.6,277.1 303.4,278.6 303.6,278.5" fill="#fdae61" stroke="#6e6e6e" stroke-width="0.8" stroke-linejoin="round"/>
<polygon points="269.6,298 270,300.9 275,303.7 276.3,303.1 278,298.6 271.5,295.8 271.4,295.9" fill="#fdae61" stroke="#6e6e6e" stroke-width="0.8" stroke-linejoin="round"/>
<polygon points="313.7,288.7 316.1,283.7 312,279.4 311.9,279.4 308.2,284.8 309.9,287.7" fill="#fee090" stroke="#6e6e6e" stroke-width="0.8" stroke-linejoin="round"/>
<polygon points="291.4,248.1 296.2,249.4 297.1,247.9 291.3,247.4" fill="#fee090" stroke="#6e6e6e" stroke-width="0.8" stroke-linejoin="round"/>
<polygon points="342.8,306.8 341.7,306.7 337.2,311.2 339,315.3 343.2,316.1 346.6,310.3" fill="#fee090" stroke="#6e6e6e" stroke-width="0.8" stroke-linejoin="round"/>
<polygon points="375.3,293.2 367.6,296.7 366.9,298.5 370,301.8 370,298.3 373.3,298.3 376.2,295.5" fill="#fee090" stroke="#6e6e6e" stroke-width="0.8" stroke-linejoin="round"/>
<polygon points="289.9,286 288.1,282.2 285.5,281.8 281.1,284.5 281.2,285.9 286,289.5" fill="#fdae61" stroke="#6e6e6e" stroke-width="0.8" stroke-linejoin="round"/>
<polygon points="351,357.7 350.4,357.2 344.2,358.4 341.4,366.5 345.1,367.2 345.8,364.2 346.7,361 351.3,360.3" fill="#fee090" stroke="#6e6e6e" stroke-width="0.8" stroke-linejoin="round"/>
<polygon points="322.9,350.9 326.5,345.9 323.4,339.2 317.9,345.3 318.8,349" fill="#f7f7f7" stroke="#6e6e6e" stroke-width="0.8" stroke-linejoin="round"/>
<polygon points="289,294 285.4,296 286.7,300.1 291.4,299 291.8,297.1" fill="#fdae61" stroke="#6e6e6e" stroke-width="0.8" stroke-linejoin="round"/>
<polygon points="295.6,262.3 301.2,262.1 301.5,259 297.2,254 294.9,255.5 294.3,260.9" fill="#fee090" stroke="#6e6e6e" stroke-width="0.8" stroke-linejoin="round"/>
<polygon points="266.8,307.1 265.1,308.7 264.6,313.4 265,313.7 266.9,314.2 270,315.4 270.3,315.3 271.1,310.3 268.6,308.3 268.7,308.1" fill="#fee090" stroke="#6e6e6e" stroke-width="0.8" stroke-linejoin="round"/>
<polygon points="331.3,317.2 329.4,317.9 328.3,324.2 337.7,325.9 337.7,325.9 335.4,318.8" fill="#fee090" stroke="#6e6e6e" stroke-width="0.8" stroke-linejoin="round"/>
<polygon points="329.2,256.6 330.1,255.6 329.2,249.9 325.8,246.6 325.7,246.7 322,254.4 323.1,256" fill="#fee090" stroke="#6e6e6e" stroke-width="0.8" stroke-linejoin="round"/>
<polygon points="296.4,283.6 290.9,286.4 293,290.2 295.5,291.4 298,289" fill="#fdae61" stroke="#6e6e6e" stroke-width="0.8" stroke-linejoin="round"/>
<polygon points="307,295.4 307.2,290.2 301.9,289.2 302.2,293.4 306,295.7" fill="#fdae61" stroke="#6e6e6e" stroke-width="0.8" stroke-linejoin="round"/>
<polygon points="303.6,353.1 302.9,353.1 305,358.3 308.7,362.6 312,359.3" fill="#fee090" stroke="#6e6e6e" stroke-width="0.8" stroke-linejoin="round"/>
<polygon points="318.9,328.4 316.8,331.6 318.3,336.4 323.5,338.9 324.1,338.5 326.7,331.4 325.4,328.3" fill="#fee090" stroke="#6e6e6e" stroke-width="0.8" stroke-linejoin="round"/>
<polygon points="296,294.2 291.8,297.1 291.4,299 293.7,302 296.1,301.4 298.3,296.5 298.1,295.9" fill="#fdae61" stroke="#6e6e6e" stroke-width="0.8" stroke-linejoin="round"/>
<polygon points="269.4,280.3 271.1,286.5 272.4,286.7 278,282.3 273.4,279.1 269.5,280.1" fill="#fdae61" stroke="#6e6e6e" stroke-width="0.8" stroke-linejoin="round"/>
<polygon points="364.8,310.3 366.7,311.2 366.7,303.3 370,303.3 370,301.8 366.9,298.5 362,301.6 361.9,302.2" fill="#f7f7f7" stroke="#6e6e6e" stroke-width="0.8" stroke-linejoin="round"/>
<polygon points="302.8,300.8 299.4,303.2 299.5,306.1 301.6,307.8 307,304.6 306.9,304.4" fill="#fdae61" stroke="#6e6e6e" stroke-width="0.8" stroke-linejoin="round"/>
<polygon points="325.5,301.7 326.3,294.8 321.4,292.9 318.2,298.2" fill="#fee090" stroke="#6e6e6e" stroke-width="0.8" stroke-linejoin="round"/>
<polygon points="281.4,305.3 284.5,302.8 279.4,297.8 278,298.6 276.3,303.1" fill="#fee090" stroke="#6e6e6e" stroke-width="0.8" stroke-linejoin="round"/>
<polygon points="282.5,294.3 285.4,296 289,294 289.1,292.8 286,289.6" fill="#fdae61" stroke="#6e6e6e" stroke-width="0.8" stroke-linejoin="round"/>
<polygon points="350.3,351 342.4,348.4 341.8,348.6 341,355.1 344.2,358.4 350.4,357.2" fill="#b2abd2" stroke="#6e6e6e" stroke-width="0.8" stroke-linejoin="round"/>
<polygon points="285.4,242.7 283.5,246.9 286.2,251 288,251.5 291.4,248.1 291.3,247.4 287,247 285.9,242.8" fill="#fee090" stroke="#6e6e6e" stroke-width="0.8" stroke-linejoin="round"/>
<polygon points="278,249.6 273.1,249.8 271.7,252.7 274.8,257.3 280.2,255.6 280.4,254.9" fill="#fee090" stroke="#6e6e6e" stroke-width="0.8" stroke-linejoin="round"/>
<polygon points="334.6,332.1 326.7,331.4 324.1,338.5 334.7,339.6" fill="#fee090" stroke="#6e6e6e" stroke-width="0.8" stroke-linejoin="round"/>
<polygon points="316.2,270.2 314.7,272.1 315.4,275.9 318.9,277.5 323.8,274.6 323.9,274.2 317.4,269.9" fill="#fee090" stroke="#6e6e6e" stroke-width="0.8" stroke-linejoin="round"/>
<polygon points="301.5,259 301.2,262.1 302.2,263.4 308.6,261.5 308.8,257.3 305.7,255.3" fill="#fdae61" stroke="#6e6e6e" stroke-width="0.8" stroke-linejoin="round"/>
<polygon points="307.3,305 307,304.6 301.6,307.8 301.8,312.3 305.2,313.6 307.8,310.7" fill="#fdae61" stroke="#6e6e6e" stroke-width="0.8" stroke-linejoin="round"/>
<polygon points="256.7,310.3 258,311.8 264.2,313.5 264.6,313.4 265.1,308.7 257.5,307.8" fill="#fee090" stroke="#6e6e6e" stroke-width="0.8" stroke-linejoin="round"/>
<polygon points="317.9,345.3 312.5,343.4 308.8,345.5 308.8,346.4 314,352.5 318.8,349" fill="#f7f7f7" stroke="#6e6e6e" stroke-width="0.8" stroke-linejoin="round"/>
<polygon points="302.2,293.4 298.1,295.9 298.3,296.5 302.7,299.7 306,295.7" fill="#fdae61" stroke="#6e6e6e" stroke-width="0.8" stroke-linejoin="round"/>
<polygon points="306.9,304.4 307,304.6 307.3,305 313.4,306.4 316,304.3 315.4,300.7 310.3,299.7" fill="#fdae61" stroke="#6e6e6e" stroke-width="0.8" stroke-linejoin="round"/>
<polygon points="238.4,291.3 241.5,284.8 237.3,280.9 235.9,281.2 234.3,283.4 234.3,290.8" fill="#f7f7f7" stroke="#6e6e6e" stroke-width="0.8" stroke-linejoin="round"/>
<polygon points="272,246.6 273.1,249.8 278,249.6 279.6,247.1 277.1,242.6 274.9,242.6" fill="#fee090" stroke="#6e6e6e" stroke-width="0.8" stroke-linejoin="round"/>
<polygon points="307.7,334 307.5,333.3 299.4,334.4 298.7,335.8 302,342.6 305.5,342.6" fill="#fee090" stroke="#6e6e6e" stroke-width="0.8" stroke-linejoin="round"/>
<polygon points="361.9,302.2 362,301.6 356.9,297.2 350.7,300.9 353.1,307.6" fill="#f7f7f7" stroke="#6e6e6e" stroke-width="0.8" stroke-linejoin="round"/>
<polygon points="308,268.6 310.2,272 314.7,272.1 316.2,270.2 311.8,264.4" fill="#fee090" stroke="#6e6e6e" stroke-width="0.8" stroke-linejoin="round"/>
<polygon points="312.6,255.8 314.9,257 319.5,253.9 316.6,249.1 313.9,249.2 313.7,249.5 311.9,249.3" fill="#fee090" stroke="#6e6e6e" stroke-width="0.8" stroke-linejoin="round"/>
<polygon points="296.2,249.4 297.7,252.4 304.9,250.8 305.8,249.2 305.2,248.7 297.1,247.9" fill="#fee090" stroke="#6e6e6e" stroke-width="0.8" stroke-linejoin="round"/>
<polygon points="296.1,301.4 293.7,302 292.5,306.1 294.5,308.1 299.5,306.1 299.4,303.2" fill="#fdae61" stroke="#6e6e6e" stroke-width="0.8" stroke-linejoin="round"/>
<polygon points="275.1,266.5 277,263.8 274.5,258 270.5,260.4 270.4,265.6 271.7,266.7" fill="#fee090" stroke="#6e6e6e" stroke-width="0.8" stroke-linejoin="round"/>
<polygon points="309.9,287.7 308.2,284.8 307,284.3 302.6,286.2 301.7,288.9 301.9,289.2 307.2,290.2" fill="#fdae61" stroke="#6e6e6e" stroke-width="0.8" stroke-linejoin="round"/>
<polygon points="351.3,310.3 351.8,319 358.3,320 358.6,319.8 359.3,312.7 352.6,309.3" fill="#fee090" stroke="#6e6e6e" stroke-width="0.8" stroke-linejoin="round"/>
<polygon points="380.1,283.9 378.4,283 372.1,288.1 375.5,292.8 378.6,291.1" fill="#fee090" stroke="#6e6e6e" stroke-width="0.8" stroke-linejoin="round"/>
<polygon points="263.9,296.8 264.9,289.1 263,287.9 257.8,292.7 261.9,297.7" fill="#fdae61" stroke="#6e6e6e" stroke-width="0.8" stroke-linejoin="round"/>
<polygon points="357.3,327.4 362.5,329.8 364,327.6 363,325 362.1,320.3 358.6,319.8 358.3,320" fill="#fee090" stroke="#6e6e6e" stroke-width="0.8" stroke-linejoin="round"/>
<polygon points="332.6,310.2 331.3,317.2 335.4,318.8 339,315.3 337.2,311.2" fill="#fee090" stroke="#6e6e6e" stroke-width="0.8" stroke-linejoin="round"/>
<polygon points="309.6,317.5 308.5,321.9 311.5,325 316.2,323.1 312.5,316.9" fill="#fee090" stroke="#6e6e6e" stroke-width="0.8" stroke-linejoin="round"/>
<polygon points="252.9,304 257.5,307.7 261,301.2 260.8,299.9 253.6,299.1" fill="#f7f7f7" stroke="#6e6e6e" stroke-width="0.8" stroke-linejoin="round"/>
<polygon points="294.2,265.9 295.6,262.3 294.3,260.9 289.1,260.7 288.3,265.6 289.2,266.9" fill="#fdae61" stroke="#6e6e6e" stroke-width="0.8" stroke-linejoin="round"/>
<polygon points="355,286 355,285 348.1,284 347.7,286.2 353.1,290.5 354.1,290.5" fill="#fee090" stroke="#6e6e6e" stroke-width="0.8" stroke-linejoin="round"/>
<polygon points="298.2,315.4 299.3,313.3 294.7,309.3 291.5,313.9 293.7,316.1" fill="#fdae61" stroke="#6e6e6e" stroke-width="0.8" stroke-linejoin="round"/>
<polygon points="335,363.7 344.5,364 344.5,372 335,372" fill="#fdae61" stroke="#6e6e6e" stroke-width="0.8" stroke-linejoin="round"/>
<polygon points="335.5,352 345.7,351 346,362.5 336,363.5" fill="#b2abd2" stroke="#6e6e6e" stroke-width="0.8" stroke-linejoin="round"/>
<polygon points="337.5,329.5 347.5,329.5 346.7,339.5 336.7,340" fill="#fdae61" stroke="#6e6e6e" stroke-width="0.8" stroke-linejoin="round"/>
<path d="M345.5 283.1 L345.9 282 L345.2 280.1 L339.1 277.6 M360.1 290.7 L360.7 287.7 L355.5 285.6 M350.9 283.9 L345.9 282 M386.4 284.1 L381.9 285.5 M377.8 293.9 L377.4 300 M345.4 205.9 L355.8 212.4 L364.1 208.7 M282.3 230 L281.4 228.5 M275.8 236.4 L277.8 236 L282.3 230 M329.1 242 L341.8 247.7 L347.1 244.9 M345.1 231.8 L344.6 228.5 L336.5 226.5 L334.8 228.8 M445.4 325.2 L449.5 311 L439.1 301.5 M420.5 299.9 L420.1 300.4 L419.4 324.3 L419.5 324.4 L442.3 325.1 M295.6 222.2 L291.9 230.7 L292.5 231.5 M298.2 221.7 L295.6 222.2 M288.3 202.3 L290.4 209.2 L308.2 204.3 L305.5 197.2 M449.5 311 L445.4 325.2 L445.5 325.5 M452.5 309.5 L449.5 311 M358.6 257.9 L353.1 266.5 L353.4 268.5 L357.4 271.1 M372.4 262.1 L368.3 256.2 L358.6 257.9 M290.2 209.7 L287.8 210.7 M281.4 228.5 L282.3 230 L291.9 230.7 L295.6 222.2 L290.2 209.7 M421.3 347.7 L416.4 340.5 L399.3 343.9 L397.4 354 M319.6 201.3 L316.9 204.5 L319.1 206.7 M370.5 249.2 L381.8 244.1 M370.3 230.4 L364.2 232.6 M363.6 240.5 L370.5 249.2 M419.4 324.3 L420.1 300.4 L405.1 300.7 M398.8 320.5 L419.4 324.3 M392.1 254.8 L392.2 252.7 M381.8 244.1 L370.5 249.2 L368.3 256.2 L372.4 262.1 M368.3 281.5 L360.7 287.7 L360.1 290.7 M370.5 302.8 L372 303 M377.4 300 L377.8 293.9 M375.1 285 L368.3 281.5 M392.2 252.7 L392.1 254.8 M405.1 300.7 L420.1 300.4 L420.5 299.9 M442.3 325.1 L419.5 324.4 L416.4 340.5 L421.3 347.7 M367.8 278.5 L368.3 281.5 L375.1 285 M381.9 285.5 L386.4 284.1 M336.5 226.5 L344.6 228.5 L354.3 221.4 L355.8 212.4 L345.4 205.9 M335.4 224.8 L336.5 226.5 M298.7 247.6 L293.7 239.8 L287.1 245.5 M399.3 343.9 L416.4 340.5 L419.5 324.4 L419.4 324.3 L398.8 320.5 M307.6 248.4 L307.5 248.2 L305.4 248.2 M364.1 208.7 L355.8 212.4 L354.3 221.4 L362.4 231 M364.2 232.6 L370.3 230.4 M307.3 235.9 L310.1 244.4 L323.5 244.4 L325.9 241.9 M338.1 276.4 L336.2 261.8 L334.7 261.9 M334.7 261.9 L336.2 261.8 L338.5 260.1 L341.8 247.7 L329.1 242 M325.9 241.9 L323.5 244.4 L323.4 245.8 M323.4 245.8 L323.5 244.4 L310.1 244.4 L307.5 248.2 L307.6 248.4 M319.1 206.7 L316.9 204.5 L310.4 205.6 L308.8 218.3 M357.4 271.1 L353.4 268.5 L345.2 280.1 L345.9 282 L350.9 283.9 M355.5 285.6 L360.7 287.7 L368.3 281.5 L367.8 278.5 M339.1 277.6 L345.2 280.1 L353.4 268.5 L353.1 266.5 L338.5 260.1 L336.2 261.8 L338.1 276.4 M293.9 238.8 L293.7 239.8 L298.7 247.6 M305.4 248.2 L307.5 248.2 L310.1 244.4 L307.3 235.9 M372 303 L370.5 302.8 M362.4 231 L354.3 221.4 L344.6 228.5 L345.1 231.8 M347.1 244.9 L341.8 247.7 L338.5 260.1 L353.1 266.5 L358.6 257.9 L348.3 245 M282.3 230 L277.8 236 L279.7 240.7 M287.1 245.5 L293.7 239.8 L293.9 238.8 M292.5 231.5 L291.9 230.7 L282.3 230 M290.2 209.7 L290.4 209.2 L288.3 202.3 M287.8 210.7 L290.2 209.7 M397.4 354 L399.3 343.9 M305.5 197.2 L308.2 204.3 L310.4 205.6 L316.9 204.5 L319.6 201.3 M334.8 228.8 L336.5 226.5 L335.4 224.8 M449.5 311 L452.5 309.5 M439.1 301.5 L449.5 311 M277.8 236 L275.8 236.4 M279.7 240.7 L277.8 236 M310.4 205.6 L308.2 204.3 L290.4 209.2 L290.2 209.7 L295.6 222.2 L298.2 221.7 M308.8 218.3 L310.4 205.6 M358.6 257.9 L368.3 256.2 L370.5 249.2 L363.6 240.5 M348.3 245 L358.6 257.9" fill="none" stroke="#6e6e6e" stroke-width="0.7"/>
<path d="M250.1 312.4 L243.7 313.7 L241.9 317.1 M232.7 316.8 L231.9 317.1 L229 326 L233.6 328.3 L235.4 327.2 M239.9 319.5 L232.7 316.8 M233.6 328.3 L234.8 331.4 M235.4 327.2 L233.6 328.3 M228.9 315.5 L231.9 317.1 L232.7 316.8 L233.9 314.1 M222.6 323.2 L227.8 326.3 L229 326 L231.9 317.1 L228.9 315.5 M242.8 312.9 L243.7 313.7 L250.1 312.4 L249.9 312 M227.8 326.3 L222.6 323.2 M222.6 334 L222.9 334.1 L223.4 334 L227.8 326.3 M227.8 326.3 L223.4 334 L230.3 339 M234.8 331.4 L233.6 328.3 L229 326 L227.8 326.3 M230.3 339 L223.4 334 L222.9 334.1 L222.7 334.7 M249.9 312 L250.1 312.4 L250.8 312.8 M232.7 316.8 L239.9 319.5 M241.9 317.1 L243.7 313.7 L242.8 312.9 M233.9 314.1 L232.7 316.8" fill="none" stroke="#6e6e6e" stroke-width="0.7"/>
<path d="M338.8 430.7 L349.4 430.3 L351.9 424.6 L350.9 421.2 M338.2 428.9 L338.8 430.7 M387.7 323.4 L385.7 321.5 M368.9 325.4 L368.8 325.7 L375.9 334.1 L381.2 333.5 L387.7 323.4 M399.7 395.7 L398.9 396.3 L406.6 408.1 L414.2 408.7 L418.3 397.9 L416.7 393.9 L399.7 395.7 M375.9 334.1 L372.1 343.1 L373.5 346.2 L382.6 350.3 L390.7 342.4 L381.2 333.5 L375.9 334.1 M378 465.5 L374.7 464.7 L369.4 472.9 L371.3 475.1 M359.6 440.5 L355.5 454.8 L356.6 456.8 L371.6 455 L367.6 438.1 L367.6 438.1 L359.6 440.5 M396.7 429.5 L405.3 423.1 L400.1 414.5 L392.5 413.8 L389.3 417.3 L389.8 426.1 L396.7 429.5 M355.5 454.8 L341.7 450 L335.8 464.4 L343.9 467.8 L355.8 462.8 L356.6 456.8 L355.5 454.8 M359.3 477 L347 478.9 L345.9 480.5 M359.4 478.1 L359.3 477 M418.3 397.9 L422.2 399 M422.2 388.1 L416.9 393 L416.7 393.9 L418.3 397.9 M382.9 377.8 L388.9 363.4 L383.9 359.6 L375.4 362.2 L373.8 366.5 M380.2 376.4 L382.9 377.8 M411.9 423 L425.4 423.3 M425.4 422.7 L424.3 413.4 L414.3 408.9 L411.9 423 M394.5 363.2 L397.7 355.1 M394.2 344.6 L391.4 342.4 L390.7 342.4 L382.6 350.3 L383.9 359.6 L388.9 363.4 L394.5 363.2 M335.8 464.4 L341.7 450 L341 448.4 L324.3 448 L321.9 451.1 L324.2 460.8 L335.3 464.6 L335.8 464.4 M400 367.2 L394.5 363.2 L388.9 363.4 L382.9 377.8 L384 381.6 L388.3 382.7 L397.6 378.6 L400 367.2 M415.6 374.2 L413.1 375.1 L409.9 381.9 L416.9 393 L422.2 388.1 M422.2 376.6 L415.6 374.2 M363.4 411.7 L364.8 407.3 L356.1 400.1 L348.3 402.3 M355.7 414.7 L363.4 411.7 M374.1 421.1 L376.5 427.5 L385.6 429.2 L389.8 426.1 L389.3 417.3 L379.1 415.2 L374.1 421.1 M367 419.9 L362.7 425.5 L367.6 438.1 L367.6 438.1 L369.1 437.6 L376.5 427.5 L374.1 421.1 L367 419.9 M418.3 397.9 L414.2 408.7 L414.3 408.9 L424.3 413.4 L425.2 412.7 M422.2 399 L418.3 397.9 M341.1 447.4 L341 448.4 L341.7 450 L355.5 454.8 L359.6 440.5 L351.7 436.3 L341.1 447.4 M388.1 401.1 L378.7 389.7 M371.7 398 L371.3 404.5 L376.1 406.8 L388.1 401.1 M384.5 441.5 L383.6 442.2 L382.3 451.9 L387.8 455.2 M392 454.6 L398 449.9 L399 442.1 L384.5 441.5 M391.7 323.1 L391.5 323.5 L397.1 327.8 L399.7 326.4 M397.7 355.1 L394.5 363.2 L400 367.2 L401.6 367.2 L413.2 357.5 L413.1 357.1 M397.7 332.3 L397.1 327.8 L391.5 323.5 L387.7 323.4 L381.2 333.5 L390.7 342.4 L391.4 342.4 L397.7 332.3 M373.5 346.2 L372.1 343.1 L365.1 342 M359 346.3 L358.2 350.5 M368 354.8 L373.5 346.2 M408.1 440.4 L412.2 434.6 L410.6 424.1 L405.3 423.1 L396.7 429.5 L400.3 440.9 L408.1 440.4 M409.9 381.9 L413.1 375.1 L401.6 367.2 L400 367.2 L397.6 378.6 L403.4 383.5 L409.9 381.9 M302.2 486.3 L300.2 483.4 M301.3 488.3 L302.2 486.3 M413.1 357.1 L413.2 357.5 L418.3 361.8 L421.9 361.6 M424.9 439.2 L422.4 434.5 L412.2 434.6 L408.1 440.4 L414.3 448.1 L424.7 444 M379.1 415.2 L389.3 417.3 L392.5 413.8 L390.4 401.6 L388.1 401.1 L376.1 406.8 L379.1 415.2 M331.9 476.1 L335.3 464.6 L324.2 460.8 L315 469.1 L315.7 472 L321.6 476 M329.3 477.2 L331.9 476.1 M355.8 462.8 L362.2 473.1 L369.4 472.9 L374.7 464.7 L373.8 456.3 L371.6 455 L356.6 456.8 L355.8 462.8 M324.2 460.8 L321.9 451.1 L313.6 449.9 M311.8 450.6 L310.3 451.7 M310 466.7 L315 469.1 L324.2 460.8 M384 381.6 L382.9 377.8 L380.2 376.4 M379 387.5 L384 381.6 M397.3 396.4 L390.4 401.6 L392.5 413.8 L400.1 414.5 L406.6 408.1 L398.9 396.3 L397.3 396.4 M397.6 378.6 L388.3 382.7 L397.3 396.4 L398.9 396.3 L399.7 395.7 L403.4 383.5 L397.6 378.6 M351.9 424.6 L349.4 430.3 L351.7 436.3 L359.6 440.5 L367.6 438.1 L362.7 425.5 L351.9 424.6 M324.3 438.8 L324.3 448 L341 448.4 L341.1 447.4 L335.2 435 L326.5 435.2 M302.2 486.3 L301.3 488.3 M310.7 485.8 L309.1 484.7 L302.2 486.3 M321.9 451.1 L324.3 448 L324.3 438.8 M313.6 449.9 L321.9 451.1 M368.8 325.7 L365.5 327.7 M365.1 342 L372.1 343.1 L375.9 334.1 L368.8 325.7 M302.2 486.3 L309.1 484.7 L315.7 472 L315 469.1 L310 466.7 M300.2 483.4 L302.2 486.3 M382.3 451.9 L373.8 456.3 L374.7 464.7 L378 465.5 M387.8 455.2 L382.3 451.9 M398 449.9 L401 453.1 M414.3 449.7 L414.3 448.1 L408.1 440.4 L400.3 440.9 L399 442.1 L398 449.9 M371.6 455 L373.8 456.3 L382.3 451.9 L383.6 442.2 L369.1 437.6 L367.6 438.1 L371.6 455 M356.1 400.1 L364.8 407.3 L371.3 404.5 L371.7 398 M356.7 398.4 L356.1 400.1 M369.4 472.9 L362.2 473.1 L359.3 477 L359.4 478.1 M371.3 475.1 L369.4 472.9 M382.6 350.3 L373.5 346.2 L368 354.8 M374.1 361.4 L375.4 362.2 L383.9 359.6 L382.6 350.3 M397.7 332.3 L391.4 342.4 L394.2 344.6 M400.7 333.7 L397.7 332.3 M421.9 361.6 L418.3 361.8 L415.6 374.2 L422.2 376.6 M331.9 476.1 L329.3 477.2 M334.1 478.1 L331.9 476.1 M401 453.1 L398 449.9 L392 454.6 M373.8 366.5 L375.4 362.2 L374.1 361.4 M367 419.9 L374.1 421.1 L379.1 415.2 L376.1 406.8 L371.3 404.5 L364.8 407.3 L363.4 411.7 L367 419.9 M359.3 477 L362.2 473.1 L355.8 462.8 L343.9 467.8 L347 478.9 L359.3 477 M369.1 437.6 L383.6 442.2 L384.5 441.5 L385.6 429.2 L376.5 427.5 L369.1 437.6 M422.4 434.5 L424.9 439.2 M425.2 428.8 L422.4 434.5 M350.9 421.2 L351.9 424.6 L362.7 425.5 L367 419.9 L363.4 411.7 L355.7 414.7 M388.1 401.1 L390.4 401.6 L397.3 396.4 L388.3 382.7 L384 381.6 L379 387.5 M378.7 389.7 L388.1 401.1 M385.7 321.5 L387.7 323.4 L391.5 323.5 M414.3 448.1 L414.3 449.7 M424.7 444 L414.3 448.1 M315.7 472 L309.1 484.7 L310.7 485.8 M321.6 476 L315.7 472 M365.5 327.7 L368.8 325.7 M326.5 435.2 L335.2 435 L338.8 430.7 L338.2 428.9 M347 478.9 L343.9 467.8 L335.8 464.4 L335.3 464.6 L331.9 476.1 L334.1 478.1 M345.9 480.5 L347 478.9 M338.8 430.7 L335.2 435 L341.1 447.4 L351.7 436.3 L349.4 430.3 L338.8 430.7 M384.5 441.5 L399 442.1 L400.3 440.9 L396.7 429.5 L389.8 426.1 L385.6 429.2 L384.5 441.5 M358.2 350.5 L359 346.3 M397.1 327.8 L397.7 332.3 L400.7 333.7 M399.7 326.4 L397.1 327.8 M310.3 451.7 L311.8 450.6 M424.3 413.4 L425.4 422.7 M425.2 412.7 L424.3 413.4 M348.3 402.3 L356.1 400.1 L356.7 398.4 M400.1 414.5 L405.3 423.1 L410.6 424.1 L411.9 423 L414.3 408.9 L414.2 408.7 L406.6 408.1 L400.1 414.5 M410.6 424.1 L412.2 434.6 L422.4 434.5 L425.2 428.8 M425.4 423.3 L411.9 423 L410.6 424.1 M399.7 395.7 L416.7 393.9 L416.9 393 L409.9 381.9 L403.4 383.5 L399.7 395.7 M415.6 374.2 L418.3 361.8 L413.2 357.5 L401.6 367.2 L413.1 375.1 L415.6 374.2" fill="none" stroke="#776c88" stroke-width="0.7"/>
<path d="M394.4 304 L389.6 309.3 L389.9 311 L395.1 314.6 L397.8 313 M399.2 305 L394.4 304 M382.8 261.2 L377.7 266.9 L382.1 274.6 L388.8 269.9 L388.1 261 L382.8 261.2 M393.4 290.9 L385.2 289.5 L385.4 299.2 L392 299.5 L395 294.4 L393.4 290.9 M357.7 268.3 L358.7 267.8 L358.6 264.4 M369.6 316.3 L368.7 316.7 L365.3 321.9 M376.2 319.9 L369.6 316.3 M388.3 260.9 L392.4 261.7 M389.5 255 L388.3 260.9 M358.7 267.8 L363.5 271.7 L368.1 271.1 L372.4 266.2 L371.5 263.8 M358.6 264.4 L358.7 267.8 M394.4 304 L392 299.5 L385.4 299.2 L383.2 301.3 L383.3 305 L389.6 309.3 L394.4 304 M382.8 261.2 L380.5 258.2 M371.5 263.8 L372.4 266.2 L377.7 266.9 L382.8 261.2 M369.8 304.7 L374.3 301.2 M377.7 266.9 L372.4 266.2 L368.1 271.1 L371.4 275.7 M377.6 278.6 L382.1 274.7 L382.1 274.6 L377.7 266.9 M405.8 279.8 L403 285.8 L404.6 290.4 L413.6 293.3 L415.3 288.8 M414.8 283.2 L413.8 281.9 M407 279.5 L405.8 279.8 M371.4 308 L369.8 304.7 L369.4 304.5 M365 315 L368.7 316.7 L369.6 316.3 L371.4 308 M363.5 271.7 L358.7 267.8 L357.7 268.3 M363.2 273 L363.5 271.7 M397.7 321.3 L394.7 318.9 L392.3 320.3 M415.3 288.8 L413.6 293.3 L413.9 294.5 M385.5 287.5 L388.6 280.7 L382.1 274.7 L377.6 278.6 M368.7 316.7 L365 315 M365.3 321.9 L368.7 316.7 M381.7 317.3 L379.6 308.9 L371.4 308 L369.6 316.3 L376.2 319.9 M380.4 318.1 L381.7 317.3 M413.9 294.5 L413.6 293.3 L404.6 290.4 L400.9 295.7 L402.9 300.3 L403 300.3 M396 286.6 L403 285.8 L405.8 279.8 L403.4 278.2 M396.5 275.3 L392.7 280.1 L396 286.6 M388.8 269.9 L382.1 274.6 L382.1 274.7 L388.6 280.7 L392.7 280.1 L396.5 275.3 M393.6 271.8 L388.8 269.9 M413.8 281.9 L414.8 283.2 M405.8 279.8 L407 279.5 M403.4 278.2 L405.8 279.8 M381.7 317.3 L380.4 318.1 M385.2 319 L383.6 317.4 L381.7 317.3 M377.7 299 L383.2 301.3 L385.4 299.2 L385.2 289.5 L385 289.3 M368.1 271.1 L363.5 271.7 L363.2 273 M371.4 275.7 L368.1 271.1 M388.3 260.9 L388.1 261 L388.8 269.9 L393.6 271.8 M392.4 261.7 L388.3 260.9 M382.8 261.2 L388.1 261 L388.3 260.9 L389.5 255 M380.5 258.2 L382.8 261.2 M404.6 290.4 L403 285.8 L396 286.6 L393.4 290.9 L395 294.4 L400.9 295.7 L404.6 290.4 M395.1 314.6 L394.7 318.9 L397.7 321.3 M397.8 313 L395.1 314.6 M383.3 305 L383.2 301.3 L377.7 299 M374.3 301.2 L369.8 304.7 L371.4 308 L379.6 308.9 L383.3 305 M389.9 311 L383.6 317.4 L385.2 319 M392.3 320.3 L394.7 318.9 L395.1 314.6 L389.9 311 M402.9 300.3 L400.9 295.7 L395 294.4 L392 299.5 L394.4 304 L399.2 305 M402.3 301.2 L402.9 300.3 M385 289.3 L385.2 289.5 L393.4 290.9 L396 286.6 L392.7 280.1 L388.6 280.7 L385.5 287.5 M389.9 311 L389.6 309.3 L383.3 305 L379.6 308.9 L381.7 317.3 L383.6 317.4 L389.9 311" fill="none" stroke="#6e6e6e" stroke-width="0.7"/>
<path d="M315.6 219.3 L317.4 218.6 L319.9 211.3 L316.7 209.2 M294.9 232.4 L293.5 233.4 M300.8 236.5 L299.7 234.2 L294.9 232.4 M333.2 203.7 L333.6 203.9 L334.5 203.2 M331.2 199.3 L333.2 203.7 M313.7 231.8 L321.6 230 L322 222.7 L317.4 218.6 L315.6 219.3 M315.1 219.5 L314.6 219.7 L309.7 226.5 L310.1 227.1 M311 228.3 L313.7 231.8 M330.6 216.1 L322.6 210 L319.9 211.3 L317.4 218.6 L322 222.7 L329.2 221.6 L330.6 216.1 M321.3 198.7 L324 207.6 L333.2 203.7 L331.2 199.3 M318.3 240.2 L313.6 237.7 M313.7 231.8 L313.2 235.1 M313.6 237.7 L318.3 240.2 M321.4 240.6 L322.8 239.7 L324.5 232.6 L321.6 230 L313.7 231.8 M313.7 231.8 L311 228.3 M302.7 230.9 L299.7 234.2 L300.8 236.5 M313.2 235.1 L313.7 231.8 M309.7 226.5 L306.8 226.6 L306.5 226.9 M300.9 219.8 L306.8 226.6 L309.7 226.5 L314.6 219.7 L314.3 219.4 M301.5 218.8 L300.9 219.8 M322.8 239.7 L321.4 240.6 M326.6 241.2 L322.8 239.7 M300.9 219.8 L299 220 M306.5 226.9 L306.8 226.6 L300.9 219.8 M294.9 232.4 L299.7 234.2 L302.7 230.9 M294.2 230.4 L294.9 232.4 M333.6 203.9 L333.2 203.7 L324 207.6 L322.6 210 L330.6 216.1 L334 214.4 L334.2 213.4 M334.3 204.8 L333.6 203.9 M333.6 226.6 L333.8 230.2 M334.5 225.8 L333.6 226.6 M300.9 219.8 L301.5 218.8 M299 220 L300.9 219.8 M334 214.4 L330.6 216.1 L329.2 221.6 L333.6 226.6 L334.5 225.8 M329.2 221.6 L322 222.7 L321.6 230 L324.5 232.6 L333.4 231.3 L333.8 230.6 M333.8 230.2 L333.6 226.6 L329.2 221.6 M333.8 230.6 L333.4 231.3 L333.5 232.5 M294.9 232.4 L294.2 230.4 M293.5 233.4 L294.9 232.4 M319.9 211.3 L322.6 210 L324 207.6 L321.3 198.7 M316.7 209.2 L319.9 211.3 M334.2 213.4 L334 214.4 M333.4 231.3 L324.5 232.6 L322.8 239.7 L326.6 241.2 M333.5 232.5 L333.4 231.3 M333.6 203.9 L334.3 204.8 M334.5 203.2 L333.6 203.9" fill="none" stroke="#6e6e6e" stroke-width="0.7"/>
<path d="M266.9 198.3 L265.2 198.3 M264.9 208.8 L266.9 207.1 L266.9 198.3 M288.2 225.5 L289.4 226.5 M288 223.5 L288.2 225.5 M284.6 199 L286.7 200.3 L287.8 199.5 M284.7 189.7 L283 190.4 M282.4 191.7 L284.6 199 M277.9 201.1 L284.6 199 L282.4 191.7 M273.5 197.3 L277.9 201.1 M275.8 215.7 L276.7 210.6 L276.2 210 L266.9 207.1 L264.9 208.8 M273.5 217.2 L275.8 215.7 M286 210.4 L276.7 210.6 L275.8 215.7 L279.3 220.9 L285.3 220.6 M286.8 209.2 L286 210.4 M284.6 199 L277.9 201.1 L276.2 210 L276.7 210.6 L286 210.4 L286.8 209.2 M287.4 203.1 L286.7 200.3 L284.6 199 M265.2 198.3 L266.9 198.3 M289.4 226.5 L288.2 225.5 L286.4 226.8 M283 190.4 L284.7 189.7 M286.7 200.3 L287.4 203.1 M287.8 199.5 L286.7 200.3 M288.2 225.5 L288 223.5 M285.3 220.6 L279.3 220.9 L277 226.3 L277.1 226.5 M286.4 226.8 L288.2 225.5 M277.9 201.1 L273.5 197.3 M267.3 197.7 L266.9 198.3 L266.9 207.1 L276.2 210 L277.9 201.1 M279.3 220.9 L275.8 215.7 L273.5 217.2 M275.9 226.2 L277 226.3 L279.3 220.9" fill="none" stroke="#6e6e6e" stroke-width="0.7"/>
<path d="M229.6 284.1 L228.1 288.3 L231.3 291.6 M232.7 284.2 L229.6 284.1 M220.5 258.6 L226.7 261.4 L229.1 259.3 L229.3 253.3 M227.8 251.5 L222.4 249.7 L219 250.8 L218.7 251.9 L220.5 258.6 M229.6 284.1 L227.5 278.9 L224 280.1 M224.5 289.9 L228.1 288.3 L229.6 284.1 M229.1 259.3 L226.7 261.4 L226 266.3 L230.7 268.3 M230.7 259.7 L229.1 259.3 M229.3 253.3 L229.1 259.3 L230.7 259.7 M227.6 278.3 L227.5 278.9 L229.6 284.1 L232.7 284.2 M231.2 276.2 L227.6 278.3 M218.7 251.9 L219 250.8 L218.8 250.5 M215.3 254.2 L218.7 251.9 M222.4 249.7 L227.8 251.5 M223.1 247.8 L222.4 249.7 M221.5 270 L222.3 270 L226 266.3 L226.7 261.4 L220.5 258.6 L216.4 262.5 M226 266.3 L222.3 270 L227.6 278.3 L231.2 276.2 M230.7 268.3 L226 266.3 M219 250.8 L222.4 249.7 L223.1 247.8 M227.5 278.9 L227.6 278.3 L222.3 270 L221.5 270 M224 280.1 L227.5 278.9 M228.1 288.3 L224.5 289.9 M231.3 291.6 L228.1 288.3 M216.4 262.5 L220.5 258.6 L218.7 251.9 L215.3 254.2" fill="none" stroke="#6e6e6e" stroke-width="0.7"/>
<path d="M338.9 424.7 L338.3 422.3 M342 405.7 L339.5 402.3 M339.5 407.3 L342 405.7 M345.1 418.2 L349.6 422 L353.3 421.2 L355 418.9 M351.4 410.7 L346 411.8 L345.1 418.2 M342 405.7 L342 405.7 L347.6 401.6 M339.5 402.3 L342 405.7 M349.6 422 L345.1 418.2 L339 420 L338.5 420.9 M338.3 422.3 L338.9 424.7 M347.9 429.8 L349.6 422 M355 418.9 L353.3 421.2 M342 405.7 L339.5 407.3 M338.7 419.6 L339 420 L345.1 418.2 L346 411.8 L342 405.7 L342 405.7 M342 405.7 L346 411.8 L351.4 410.7 M347.6 401.6 L342 405.7 M353.3 421.2 L349.6 422 L347.9 429.8 M349.5 432.7 L350.1 433.3 L350.9 433.3" fill="none" stroke="#6e6e6e" stroke-width="0.7"/>
<polyline points="185,243 187,249.3 195.4,254.5 202.6,261.7 212,264.8 222.3,275.2 223.3,291.8 207.8,292.8 171.6,287.6" fill="none" stroke="#6e6e6e" stroke-width="0.7"/>
<polyline points="167.4,289.7 174.7,300 179.9,308.3 189.2,316.6 191.3,317.6 196.4,308.3" fill="none" stroke="#6e6e6e" stroke-width="0.7"/>
<polyline points="191.3,329 216.1,316.6" fill="none" stroke="#6e6e6e" stroke-width="0.7"/>
<polyline points="300.2,148.8 322.8,147.5 324,142.5 336.5,132.5 342.8,141.2 349,136.2 359,140 361.5,148.8 371.5,157.5" fill="none" stroke="#6e6e6e" stroke-width="0.7"/>
<polyline points="300.2,148.8 297.8,170 302.8,172.5 294,177.5 262.8,172.5" fill="none" stroke="#6e6e6e" stroke-width="0.7"/>
<polyline points="294,177.5 290,187.5" fill="none" stroke="#6e6e6e" stroke-width="0.7"/>
<polyline points="148.3,226.7 163.3,228.3 165,243.3" fill="none" stroke="#6e6e6e" stroke-width="0.7"/>
<polyline points="181.7,121.7 190,127 200,131 207,129 216.7,135 215,148 210,156.7 213.3,163.3 205,166.7" fill="none" stroke="#6e6e6e" stroke-width="0.7"/>
<polyline points="183.3,140 188.3,153.3 190,166.7 186.7,170 185,186.7 196.7,196.7" fill="none" stroke="#6e6e6e" stroke-width="0.7"/>
<polyline points="466.8,315 480.5,326.2 498,328.8 500.5,335 508,333.8 513,326.2 518,322.5 528,325 530.5,330 539.2,331.2" fill="none" stroke="#6e6e6e" stroke-width="0.7"/>
<polyline points="418,362.5 424.2,375 436.8,375 438,378.8 453,375 459.2,380 466.8,382.5" fill="none" stroke="#6e6e6e" stroke-width="0.7"/>
<polyline points="436.8,375 438,392.5 466.8,395" fill="none" stroke="#6e6e6e" stroke-width="0.7"/>
<polyline points="438,392.5 437.5,402.5" fill="none" stroke="#6e6e6e" stroke-width="0.7"/>
<polyline points="234,214 240,222 248,224 262,209" fill="none" stroke="#6e6e6e" stroke-width="0.7"/>
<polyline points="226,227.5 238,232" fill="none" stroke="#6e6e6e" stroke-width="0.7"/>
<polyline points="259,247 270,245" fill="none" stroke="#6e6e6e" stroke-width="0.7"/>
<polyline points="235,258 243,249" fill="none" stroke="#6e6e6e" stroke-width="0.7"/>
<polyline points="416.8,186.4 415,196 414.3,205.3 413.5,214 413,222.9 410,231 408,238 406.7,243" fill="none" stroke="#6e6e6e" stroke-width="0.7"/>
<polyline points="416.8,295.8 429.3,290.8 435.6,303.4 430.6,313.4 425.6,321 433,326 443,323.5" fill="none" stroke="#6e6e6e" stroke-width="0.7"/>
<polyline points="405.5,300.8 416.8,295.8" fill="none" stroke="#6e6e6e" stroke-width="0.7"/>
<polyline points="410,315 405.5,321 415.5,331 425.6,321" fill="none" stroke="#6e6e6e" stroke-width="0.7"/>
<polyline points="434,250 440,249 453,247.5 456,256" fill="none" stroke="#6e6e6e" stroke-width="0.7"/>
<polyline points="434,250 433,262 433.5,270 431,277" fill="none" stroke="#6e6e6e" stroke-width="0.7"/>
<polyline points="468,431 481.8,428.8 486,431 514,436 520.5,445" fill="none" stroke="#6e6e6e" stroke-width="0.7"/>
<polyline points="468,402.5 469,420 468,431" fill="none" stroke="#6e6e6e" stroke-width="0.7"/>
<polyline points="157.5,193.8 130,190" fill="none" stroke="#6e6e6e" stroke-width="0.7"/>
<polyline points="330,495.7 332.8,508 332,524" fill="none" stroke="#6e6e6e" stroke-width="0.7"/>
<polygon points="191,46 209,42.5 210,56 216,60 230,58.5 242.5,57.5 245,84 249,86.5 252.8,87.5 254,100 266.5,110 275,105 295,106 301.5,103.8 312.8,101 316.5,95 317.8,78.8 337.8,76.2 339.5,89.5 372.8,90 372.8,102.5 379,112.5 384.8,120 385.2,136.2 391.5,138.8 401.5,135 405,137 406.5,142.5 418,143.5 426.8,145 428,148.8 430.5,150 429,153.8 424,155 425.5,157.5 455.5,156.2 456.8,146.2 464,146.2 464.8,154.5 480.5,155.5 478.8,180 482.5,187.5 480,191 483.5,197.5 490.5,196 493,200 496.8,200 504,208.8 511.8,219.5 518,217.5 530.5,211 534,207.5 531.8,201 535.5,198 540,200 540.5,207.5 545.5,217.5 556.8,221 557.5,225 553,228.8 556.8,233.8 551.8,236 555,243.8 549,256 561.8,266 570.5,275 576.8,291 568,291 560.5,295 553,298.8 554,310 558,312.5 553,317.5 544,321 540.5,331 534,340 531.8,353.8 539,361 540.5,372.5 539,385 538,400 534,407.5 540.5,410 535.5,422.5 528,430 521.8,445 521.8,450 525.5,451 525.5,465 531,466 531,481 516,481 500,480 492.5,481 491,497.5 487.5,497.5 481,488.8 473.8,483.8 470,488.8 466,488.8 463.8,483.8 456,472.5 452.5,458.8 443.8,456 435,452.5 430,456 418.8,453.8 410,452.5 406.5,459.3 401,462.8 394,463.7 387.9,462.8 385.2,456.6 380.8,456.6 382.5,462 378,467.3 371,476 370,480.6 371.9,482.4 371,487.7 366.6,486.8 363.9,483.3 361.2,484 362,499 366.6,501 367.5,495.7 368.3,508 371,515 368.3,517.9 372.8,525.9 373.7,528.5 362,525.9 351.5,522.3 342.6,520.5 332.8,525 326.6,531 318.6,536.5 312.4,543.6 308.9,554 310,557 302.5,557.5 290,558.8 282.5,562 272.5,562.5 267.5,561 265,564.5 263.8,556 260,547.5 191,487 198.8,487.5 207.5,491 217.5,493.8 220,500 228.8,507.5 240,511 255,512.5 272.5,507.5 288.8,498.8 296,490 295,485 302.5,473.8 310,466 310,451 318.8,447.5 326.2,435 335,428.8 337.5,425 339.2,415 339.2,398.3 336.7,391.7 333.3,381.7 328.3,373.3 320,365 315,362.5 310,364.2 305,358.3 301.7,350 298.3,343.3 295,330 292.5,318.3 292,315.8 287.8,310 282,306.7 275.2,304.2 270.2,305 268.6,308.3 272.7,311.7 271,315.8 266.9,314.2 257.7,311.7 250.2,313.3 241.8,317.5 236,325 235,332 233.3,338.3 223.3,343.3 213.3,348.3 206.7,353.3 198.3,358.3 190,366.7 178,368.3 168.3,368.3 158.3,361.7 150,358.3 141.7,356.7 133.8,342.5 136,327.5 130,316 126,315 126,306 133.8,305 137,280 138.8,248.8 133.8,247.5 122.5,255 112.5,260 107.5,253.8 108.8,248.8 100,245 101,240 93.8,233.8 95,228.8 90,226 91,218.8 97.5,223.8 110,226 105,213.8 116,213.8 117.5,207.5 125,205 126,192.5 130,190 131,173.8 128.8,166 131,155 135,137.5 147.5,137.5 156,126 162.5,123.8 167.5,115 173.8,115 175,106 185,103.8 191,90 181,83.8 180,76 171,73.8 171,70 182.5,60 190,55" fill="none" stroke="#000" stroke-width="2" stroke-linejoin="round"/>
<polygon points="357,513 362.4,510.5 369,517.5 366,518.5" fill="#000" stroke="#000" stroke-width="1"/>
<text x="19.8" y="556.3" font-size="14.67" font-weight="bold" textLength="179.5" lengthAdjust="spacing">Proportion of persons <tspan font-weight="normal">(%)</tspan></text>
<text x="19.8" y="583.2" font-size="12.3" textLength="47" lengthAdjust="spacing">Quintiles</text>
<rect x="20" y="593.0" width="38" height="18" fill="#5e3c99" stroke="#6e6e6e" stroke-width="1"/>
<text x="64.1" y="606.3" font-size="12.5" textLength="83.5" lengthAdjust="spacing">More than 72.0</text>
<rect x="20" y="619.0" width="38" height="18" fill="#b2abd2" stroke="#6e6e6e" stroke-width="1"/>
<text x="64.1" y="631.9" font-size="12.5" textLength="59.2" lengthAdjust="spacing">69.1 - 72.0</text>
<rect x="20" y="645.0" width="38" height="18" fill="#f7f7f7" stroke="#6e6e6e" stroke-width="1"/>
<text x="64.1" y="658.1" font-size="12.5" textLength="59.2" lengthAdjust="spacing">64.1 - 69.0</text>
<rect x="20" y="671.0" width="38" height="18" fill="#fee090" stroke="#6e6e6e" stroke-width="1"/>
<text x="64.1" y="683.4" font-size="12.5" textLength="59.2" lengthAdjust="spacing">55.1 - 64.0</text>
<rect x="20" y="697.0" width="38" height="18" fill="#fdae61" stroke="#6e6e6e" stroke-width="1"/>
<text x="64.1" y="709.2" font-size="12.5" textLength="64.2" lengthAdjust="spacing">54.0 or less</text>
<line x1="21.2" y1="725.5" x2="59.7" y2="725.5" stroke="#000" stroke-width="2.2"/>
<text x="69.8" y="729.7" font-size="12" textLength="105" lengthAdjust="spacing">Melbourne GCCSA</text>
<path d="M473.5 711 V719.5 H616.5 V711 M544.5 714.5 V719.5" fill="none" stroke="#000" stroke-width="1"/>
<text x="472.6" y="702.6" font-size="12" text-anchor="middle">0</text>
<text x="543" y="702.6" font-size="12" text-anchor="middle">20</text>
<text x="614.7" y="702.6" font-size="12" text-anchor="middle">40</text>
<text x="515.8" y="732.0" font-size="12" textLength="54.4" lengthAdjust="spacing">Kilometres</text>
</svg>
</body></html>
